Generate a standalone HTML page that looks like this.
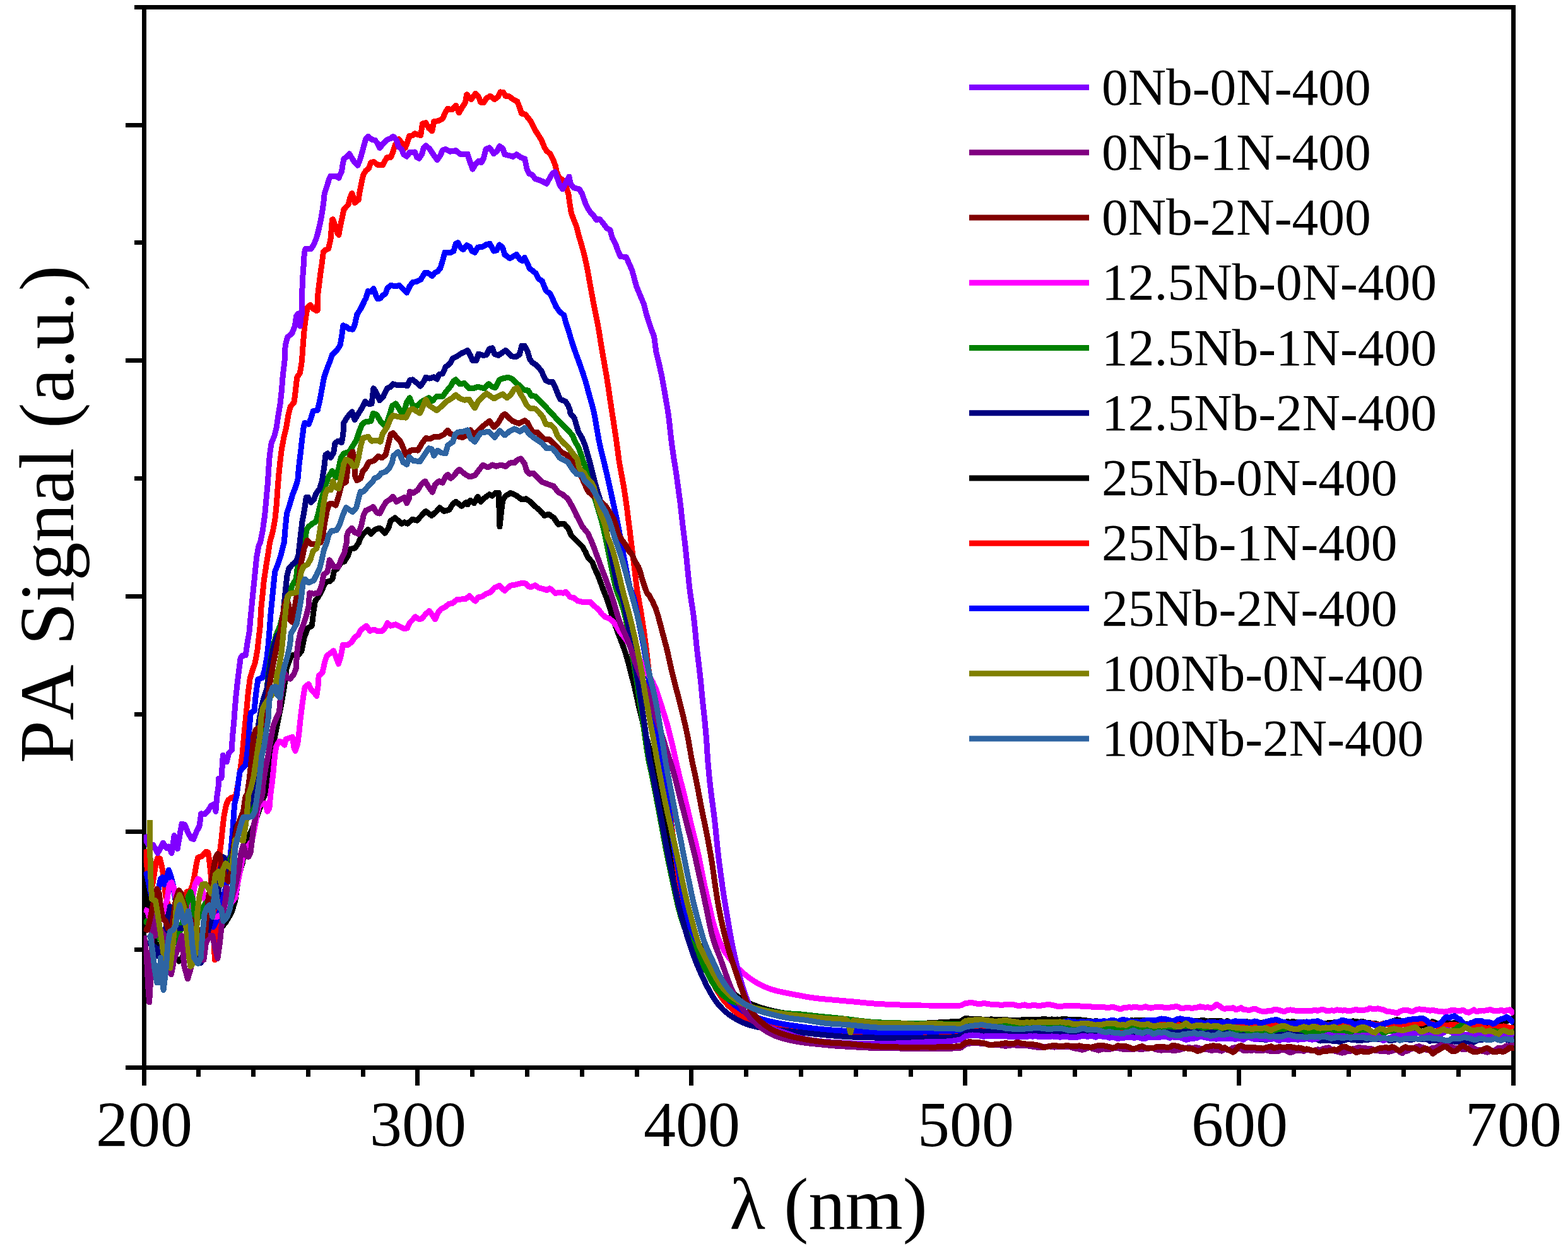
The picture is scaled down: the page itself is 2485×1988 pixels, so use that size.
<!DOCTYPE html>
<html lang="en"><head><meta charset="utf-8"><title>PA Signal vs wavelength</title>
<style>
html,body{margin:0;padding:0;background:#fff;}
body{width:2485px;height:1988px;overflow:hidden;}
svg{display:block;}
text{font-family:"Liberation Serif",serif;fill:#000;font-kerning:none;}
.tick{font-size:102px;text-anchor:middle;}
.leg{font-size:83.5px;}
.ttl{text-anchor:middle;}
.ax{stroke:#000;stroke-width:7;fill:none;stroke-linecap:butt;shape-rendering:crispEdges;}
.c{fill:none;stroke-width:9;stroke-linejoin:round;stroke-linecap:butt;shape-rendering:crispEdges;}
</style></head><body>
<svg width="2485" height="1988" viewBox="0 0 2485 1988">
<rect x="0" y="0" width="2485" height="1988" fill="#fff"/>
<path class="ax" d="M228.4,7.9 V1695.9 M224.9,1692.4 H2401.9 M224.9,11.4 H2401.9 M2398.4,7.9 V1695.9 M212.9,11.40 H228.4 M198.9,198.18 H228.4 M212.9,384.96 H228.4 M198.9,571.73 H228.4 M212.9,758.51 H228.4 M198.9,945.29 H228.4 M212.9,1132.07 H228.4 M198.9,1318.84 H228.4 M212.9,1505.62 H228.4 M198.9,1692.40 H228.4 M228.40,1692.4 V1720.9 M314.60,1692.4 V1706.9 M401.40,1692.4 V1706.9 M488.20,1692.4 V1706.9 M575.00,1692.4 V1706.9 M661.80,1692.4 V1720.9 M748.60,1692.4 V1706.9 M835.40,1692.4 V1706.9 M922.20,1692.4 V1706.9 M1009.00,1692.4 V1706.9 M1095.80,1692.4 V1720.9 M1182.60,1692.4 V1706.9 M1269.40,1692.4 V1706.9 M1356.20,1692.4 V1706.9 M1443.00,1692.4 V1706.9 M1529.80,1692.4 V1720.9 M1616.60,1692.4 V1706.9 M1703.40,1692.4 V1706.9 M1790.20,1692.4 V1706.9 M1877.00,1692.4 V1706.9 M1963.80,1692.4 V1720.9 M2050.60,1692.4 V1706.9 M2137.40,1692.4 V1706.9 M2224.20,1692.4 V1706.9 M2311.00,1692.4 V1706.9 M2398.40,1692.4 V1720.9"/>
<defs><clipPath id="pc"><rect x="227.70000000000002" y="11.4" width="2172.2" height="1681.0"/></clipPath></defs>
<g clip-path="url(#pc)">
<polyline class="c" stroke="#000000" points="228.3,1381.5 230.1,1402.3 237.1,1448.7 246.4,1495.1 258.0,1506.7 269.6,1506.7 283.5,1524.1 297.4,1506.7 316.0,1495.1 339.1,1483.5 357.7,1462.6 367.0,1446.4 372.8,1427.8 376.3,1402.3 379.7,1383.8 384.4,1367.6 387.8,1344.4 391.3,1332.8 401.8,1309.6 419.4,1259.9 424.1,1235.7 428.7,1217.1 432.2,1184.7 436.8,1161.5 441.5,1138.3 446.1,1115.1 450.7,1087.3 454.2,1059.4 460.0,1043.2 463.5,1038.6 473.9,1037.4 478.1,1031.6 482.1,1010.7 487.8,995.7 494.3,992.2 496.7,971.3 499.4,952.8 504.1,947.0 509.9,936.5 515.7,922.6 522.6,921.5 526.8,918.0 529.6,905.2 534.2,901.7 540.0,892.5 545.8,890.1 551.6,880.9 555.1,870.4 562.1,869.3 569.0,860.0 569.1,858.0 573.9,848.7 583.2,839.5 587.8,846.4 594.8,839.5 601.8,837.1 609.9,845.3 615.7,837.1 619.2,825.5 626.1,820.9 636.5,830.2 641.2,827.9 645.8,830.2 653.9,823.2 660.9,825.1 669.0,816.3 674.8,810.5 684.1,817.4 691.0,811.6 696.8,804.7 703.8,810.5 711.9,808.2 717.7,798.9 722.4,795.4 731.6,802.4 738.6,796.6 740.9,800.0 745.5,793.1 751.3,797.7 757.1,787.3 761.8,795.4 767.6,789.6 775.7,783.8 780.3,786.1 785.0,781.5 790.3,781.5 791.9,834.8 796.6,793.1 801.2,786.1 809.3,781.5 817.4,785.0 826.7,791.9 833.7,790.8 840.6,795.4 847.6,802.4 855.7,809.3 862.7,817.4 869.6,815.1 877.7,820.9 884.7,831.3 894.0,830.2 900.0,837.1 905.7,849.1 912.2,855.6 916.8,860.3 923.3,866.8 927.9,875.1 931.6,883.5 939.1,891.8 942.8,902.0 947.4,911.3 951.5,922.6 955.7,933.9 960.1,945.2 964.2,956.4 967.8,967.9 971.3,979.5 975.0,991.0 979.0,1002.3 983.4,1013.6 987.7,1024.9 991.6,1036.3 995.0,1047.9 998.0,1059.6 1001.0,1071.2 1004.1,1082.9 1006.9,1094.7 1009.5,1106.5 1012.0,1118.3 1014.8,1130.0 1017.7,1141.7 1020.6,1153.4 1023.5,1165.2 1026.5,1176.9 1029.6,1188.5 1033.2,1199.7 1036.8,1210.9 1039.7,1222.4 1042.0,1234.2 1044.1,1246.1 1046.2,1258.0 1048.3,1269.9 1050.5,1281.8 1052.6,1293.7 1054.7,1305.6 1056.8,1317.5 1059.0,1329.3 1061.1,1341.2 1063.2,1353.1 1065.3,1365.0 1067.5,1376.9 1069.8,1388.7 1072.3,1400.6 1074.8,1412.4 1077.4,1424.2 1080.2,1435.9 1083.3,1447.6 1086.6,1459.2 1090.0,1470.8 1093.5,1482.1 1097.8,1491.4 1104.2,1496.2 1111.0,1500.1 1116.2,1508.1 1120.9,1518.8 1126.0,1529.7 1131.5,1540.4 1137.5,1550.8 1144.7,1560.3 1153.3,1568.4 1163.0,1575.5 1172.8,1582.3 1183.0,1588.4 1194.0,1593.3 1205.3,1597.3 1216.9,1600.7 1228.6,1603.5 1240.5,1605.7 1252.4,1607.5 1264.4,1608.9 1276.4,1610.0 1288.5,1611.1 1300.5,1612.2 1312.5,1613.2 1324.6,1614.3 1336.6,1615.5 1348.5,1616.9 1360.4,1618.6 1372.4,1620.1 1384.4,1621.2 1396.4,1622.0 1408.5,1622.4 1420.6,1622.6 1432.6,1622.8 1444.7,1622.8 1456.8,1622.5 1468.8,1622.0 1480.9,1621.3 1492.9,1620.7 1492.9,1620.7 1522.6,1619.0 1530.1,1614.2 1541.2,1615.8 1545.5,1615.9 1549.9,1615.6 1554.2,1615.9 1558.5,1616.3 1562.9,1616.1 1567.2,1616.1 1571.6,1615.9 1575.9,1616.7 1580.2,1616.9 1584.6,1616.9 1588.9,1616.3 1593.3,1616.5 1597.6,1617.0 1601.9,1617.6 1606.3,1617.4 1610.6,1617.7 1615.0,1617.4 1619.3,1616.9 1623.6,1616.8 1628.0,1616.5 1632.3,1616.6 1636.7,1616.9 1641.0,1616.9 1645.3,1616.8 1649.7,1616.5 1654.0,1615.1 1658.4,1616.0 1662.7,1616.5 1667.0,1615.9 1671.4,1616.7 1675.7,1616.0 1680.1,1616.2 1684.4,1615.7 1688.7,1615.7 1693.1,1616.1 1697.4,1616.2 1701.8,1617.0 1706.1,1616.6 1710.4,1616.3 1714.8,1617.2 1719.1,1617.4 1723.5,1618.1 1727.8,1618.5 1732.1,1619.8 1736.5,1618.3 1740.8,1619.2 1745.2,1620.1 1749.5,1621.3 1753.8,1620.2 1758.2,1620.3 1762.5,1620.8 1766.9,1619.1 1771.2,1619.0 1775.5,1620.0 1779.9,1619.4 1784.2,1617.9 1788.6,1618.8 1792.9,1617.6 1797.2,1618.2 1801.6,1617.2 1805.9,1617.1 1810.3,1617.5 1814.6,1617.9 1818.9,1620.2 1823.3,1619.7 1827.6,1619.1 1832.0,1619.5 1836.3,1619.8 1840.6,1619.9 1845.0,1619.4 1849.3,1619.5 1853.7,1617.7 1858.0,1619.7 1862.3,1619.7 1866.7,1619.2 1871.0,1620.3 1875.4,1620.0 1879.7,1619.9 1884.0,1618.6 1888.4,1619.1 1892.7,1618.7 1897.1,1618.0 1901.4,1618.7 1905.7,1617.0 1910.1,1618.3 1914.4,1619.3 1918.8,1618.1 1923.1,1618.4 1927.4,1618.6 1931.8,1618.8 1936.1,1618.8 1940.5,1621.6 1944.8,1618.6 1949.1,1620.9 1953.5,1620.5 1957.8,1621.3 1962.2,1622.6 1966.5,1622.2 1970.8,1620.6 1975.2,1619.3 1979.5,1620.9 1983.9,1620.7 1988.2,1619.9 1992.5,1620.5 1996.9,1621.4 2001.2,1621.0 2005.6,1620.0 2009.9,1620.7 2014.2,1622.2 2018.6,1622.3 2022.9,1621.6 2027.3,1622.2 2031.6,1620.3 2035.9,1620.5 2040.3,1619.5 2044.6,1620.4 2049.0,1619.5 2053.3,1620.5 2057.6,1621.8 2062.0,1621.1 2066.3,1620.6 2070.7,1621.9 2075.0,1620.9 2079.3,1623.4 2083.7,1622.4 2088.0,1621.0 2092.4,1623.4 2096.7,1622.6 2101.0,1622.7 2105.4,1621.7 2109.7,1621.9 2114.1,1620.8 2118.4,1620.7 2122.7,1622.0 2127.1,1621.6 2131.4,1620.2 2135.8,1621.8 2140.1,1620.6 2144.4,1618.9 2148.8,1619.2 2153.1,1620.3 2157.5,1619.8 2161.8,1620.0 2166.1,1621.5 2170.5,1621.7 2174.8,1622.3 2179.2,1622.5 2183.5,1623.7 2187.8,1624.6 2192.2,1622.8 2196.5,1622.3 2200.9,1622.0 2205.2,1620.3 2209.5,1618.0 2213.9,1616.7 2218.2,1617.5 2222.6,1619.1 2226.9,1619.3 2231.2,1621.4 2235.6,1622.5 2239.9,1623.3 2244.3,1622.4 2248.6,1624.7 2252.9,1626.2 2257.3,1625.5 2261.6,1624.1 2266.0,1622.0 2270.3,1619.5 2274.6,1621.2 2279.0,1623.9 2283.3,1623.6 2287.7,1622.8 2292.0,1621.2 2296.3,1622.8 2300.7,1622.2 2305.0,1621.7 2309.4,1623.1 2313.7,1624.2 2318.0,1624.4 2322.4,1623.1 2326.7,1624.6 2331.1,1625.4 2335.4,1624.9 2339.7,1623.8 2344.1,1622.9 2348.4,1623.0 2352.8,1622.8 2357.1,1622.9 2361.4,1623.5 2365.8,1623.8 2370.1,1624.2 2374.5,1624.4 2378.8,1621.5 2383.1,1621.6 2387.5,1619.3 2391.8,1617.5 2396.2,1616.5 2399.5,1617.5"/>
<polyline class="c" stroke="#ff0000" points="228.3,1346.7 231.3,1363.4 234.1,1381.9 237.8,1400.5 241.5,1403.3 244.3,1386.6 247.1,1368.0 249.9,1359.7 253.6,1361.5 256.4,1372.7 259.1,1389.4 261.0,1405.1 262.6,1420.9 267.3,1437.1 274.2,1448.7 283.5,1444.1 292.8,1425.5 296.2,1413.9 302.0,1411.6 305.5,1402.3 309.0,1383.8 311.3,1369.9 313.6,1359.4 320.6,1357.1 326.4,1350.2 329.9,1351.3 332.2,1367.6 334.5,1390.7 336.8,1425.5 338.7,1471.9 340.3,1521.8 343.8,1471.9 346.1,1402.3 348.4,1351.3 350.7,1332.8 353.1,1309.6 355.4,1291.0 358.9,1274.8 362.3,1267.8 367.0,1264.4 371.6,1263.2 374.2,1259.9 377.7,1240.3 381.2,1217.1 384.0,1196.3 386.3,1170.8 388.6,1147.6 390.9,1124.4 393.2,1098.9 396.2,1075.7 399.7,1064.1 404.4,1050.2 407.8,1031.6 410.2,1010.7 412.5,989.9 413.6,966.7 416.0,943.5 418.3,920.3 421.8,897.1 425.2,876.2 427.6,860.0 432.5,841.8 435.9,823.2 438.3,800.0 439.9,776.8 441.7,753.7 444.1,730.5 446.4,711.9 449.9,693.4 453.3,679.4 456.8,658.6 460.3,644.7 466.1,637.7 468.4,619.1 470.7,598.3 475.4,591.3 478.4,572.8 480.0,549.6 482.3,521.7 484.6,503.2 487.0,488.1 491.6,483.5 496.2,489.3 502.0,492.8 503.2,480.0 503.3,491.9 503.3,471.1 505.5,452.5 507.8,434.0 510.2,417.7 512.5,399.2 514.8,396.8 520.6,394.5 524.1,378.3 526.4,348.1 527.6,347.7 531.0,357.4 534.5,369.0 536.8,372.5 539.1,359.7 542.6,343.5 544.9,331.9 551.9,324.5 554.9,313.4 557.7,306.4 560.5,313.4 562.3,321.5 568.1,316.8 570.5,301.8 572.8,290.2 575.8,277.4 579.7,270.5 584.4,267.0 587.8,257.7 592.5,256.5 598.3,261.2 606.4,261.9 609.9,255.4 613.4,249.6 619.2,249.6 622.6,241.5 626.1,229.9 631.9,220.6 636.5,226.4 642.3,234.5 645.8,225.2 648.6,215.5 653.9,214.8 657.4,211.8 666.7,214.8 669.5,196.2 674.8,194.6 679.5,203.2 684.8,207.8 687.6,192.8 694.5,191.6 701.5,188.1 706.1,177.7 709.6,172.4 716.6,173.7 722.4,167.3 727.5,178.8 732.8,169.6 737.4,162.6 739.7,149.9 746.7,157.5 753.7,148.2 758.3,153.3 761.8,162.2 766.4,162.6 771.1,155.7 776.9,152.2 783.8,157.5 789.6,153.3 793.1,145.9 797.7,146.4 801.2,152.2 807.0,152.9 814.0,158.0 819.8,160.8 823.2,169.6 826.7,180.0 832.5,181.2 840.6,191.6 847.6,205.5 852.2,212.5 858.0,221.8 862.7,233.3 866.1,239.1 871.9,243.8 876.6,253.1 880.1,262.3 882.4,272.8 885.9,280.9 891.7,285.5 897.4,296.4 900.9,308.0 903.2,324.2 905.5,338.1 909.0,347.4 913.6,359.0 917.1,372.9 920.6,384.5 923.8,396.1 926.8,407.8 929.5,419.5 931.7,431.3 933.8,443.1 935.9,455.0 938.1,466.8 940.3,478.7 942.6,490.5 945.0,502.3 947.3,514.1 949.4,525.9 951.3,537.8 953.2,549.7 955.2,561.6 957.3,573.4 959.4,585.3 961.4,597.1 963.3,609.0 965.1,620.9 966.8,632.8 968.6,644.7 970.4,656.6 972.3,668.5 974.1,680.4 975.9,692.3 977.6,704.2 979.2,716.2 980.7,728.1 982.7,740.0 984.9,751.8 987.1,763.6 989.2,775.5 991.0,787.3 992.7,799.3 994.3,811.2 995.7,823.1 997.3,835.1 998.8,847.0 1000.2,858.9 1001.7,870.9 1003.2,882.8 1004.7,894.8 1006.2,906.7 1007.6,918.6 1009.0,930.6 1010.8,942.4 1013.0,954.2 1015.1,966.1 1017.0,977.9 1018.8,989.8 1020.6,1001.7 1022.2,1013.7 1023.8,1025.6 1025.3,1037.5 1026.6,1049.5 1028.0,1061.5 1029.5,1073.4 1031.3,1085.3 1033.0,1097.2 1034.8,1109.1 1036.6,1121.0 1038.4,1132.9 1040.2,1144.8 1042.0,1156.7 1043.7,1168.6 1045.4,1180.5 1046.9,1192.5 1048.6,1204.4 1050.6,1216.3 1052.6,1228.1 1054.5,1240.0 1056.3,1251.9 1058.1,1263.8 1059.8,1275.7 1061.4,1287.6 1063.0,1299.6 1064.6,1311.5 1066.2,1323.4 1067.8,1335.4 1069.4,1347.3 1071.0,1359.2 1072.6,1371.2 1074.3,1383.1 1076.1,1395.0 1078.1,1406.8 1080.1,1418.7 1082.2,1430.5 1084.8,1442.3 1087.9,1453.9 1091.2,1465.4 1094.6,1477.0 1098.0,1488.5 1101.7,1499.7 1106.5,1510.4 1111.9,1520.9 1117.1,1531.7 1122.3,1542.5 1127.5,1553.4 1133.0,1564.1 1139.0,1574.5 1145.8,1584.3 1153.6,1593.4 1162.3,1601.6 1171.8,1608.8 1182.1,1614.8 1193.2,1619.3 1204.7,1622.6 1216.5,1624.9 1228.4,1626.6 1240.3,1628.1 1252.1,1630.0 1263.9,1631.9 1275.8,1633.5 1287.8,1634.7 1299.7,1635.9 1311.7,1637.0 1323.7,1637.9 1335.7,1638.6 1347.7,1639.1 1359.8,1639.4 1371.8,1639.5 1383.8,1639.6 1395.9,1639.8 1407.9,1639.9 1419.9,1639.8 1432.0,1639.5 1444.0,1639.3 1456.0,1638.9 1468.0,1638.4 1480.1,1637.9 1492.1,1637.3 1504.1,1636.4 1504.1,1636.4 1522.6,1636.4 1531.9,1631.4 1541.2,1629.6 1545.5,1629.8 1549.9,1629.9 1554.2,1629.2 1558.5,1629.1 1562.9,1629.3 1567.2,1628.6 1571.6,1629.6 1575.9,1628.8 1580.2,1628.8 1584.6,1628.6 1588.9,1629.2 1593.3,1629.3 1597.6,1629.5 1601.9,1629.7 1606.3,1629.6 1610.6,1630.2 1615.0,1630.7 1619.3,1630.4 1623.6,1629.5 1628.0,1628.7 1632.3,1628.7 1636.7,1628.5 1641.0,1628.1 1645.3,1628.6 1649.7,1628.2 1654.0,1627.5 1658.4,1628.0 1662.7,1628.1 1667.0,1627.6 1671.4,1628.5 1675.7,1628.5 1680.1,1628.1 1684.4,1628.2 1688.7,1628.2 1693.1,1629.2 1697.4,1629.7 1701.8,1629.6 1706.1,1629.1 1710.4,1628.9 1714.8,1628.9 1719.1,1628.8 1723.5,1629.8 1727.8,1630.3 1732.1,1630.6 1736.5,1630.3 1740.8,1630.6 1745.2,1630.7 1749.5,1630.7 1753.8,1630.5 1758.2,1631.4 1762.5,1630.7 1766.9,1630.5 1771.2,1630.6 1775.5,1631.0 1779.9,1630.5 1784.2,1628.4 1788.6,1629.0 1792.9,1626.7 1797.2,1626.6 1801.6,1625.9 1805.9,1624.5 1810.3,1624.3 1814.6,1623.2 1818.9,1626.4 1823.3,1626.1 1827.6,1623.6 1832.0,1623.0 1836.3,1623.3 1840.6,1623.2 1845.0,1622.2 1849.3,1621.0 1853.7,1623.1 1858.0,1622.4 1862.3,1624.9 1866.7,1624.1 1871.0,1625.8 1875.4,1626.9 1879.7,1624.3 1884.0,1624.6 1888.4,1625.5 1892.7,1624.5 1897.1,1626.2 1901.4,1625.4 1905.7,1626.5 1910.1,1626.8 1914.4,1627.4 1918.8,1626.3 1923.1,1625.5 1927.4,1626.0 1931.8,1627.5 1936.1,1626.5 1940.5,1626.4 1944.8,1625.9 1949.1,1628.1 1953.5,1629.3 1957.8,1626.7 1962.2,1627.6 1966.5,1627.4 1970.8,1625.3 1975.2,1627.8 1979.5,1627.3 1983.9,1627.5 1988.2,1628.5 1992.5,1627.0 1996.9,1626.0 2001.2,1627.0 2005.6,1627.1 2009.9,1624.7 2014.2,1624.6 2018.6,1624.8 2022.9,1626.3 2027.3,1626.0 2031.6,1624.1 2035.9,1623.8 2040.3,1624.6 2044.6,1623.7 2049.0,1625.0 2053.3,1625.9 2057.6,1625.5 2062.0,1625.8 2066.3,1627.1 2070.7,1627.5 2075.0,1629.0 2079.3,1632.0 2083.7,1629.3 2088.0,1626.3 2092.4,1625.5 2096.7,1626.4 2101.0,1626.2 2105.4,1624.3 2109.7,1624.1 2114.1,1623.7 2118.4,1624.4 2122.7,1625.3 2127.1,1624.5 2131.4,1625.9 2135.8,1626.2 2140.1,1628.3 2144.4,1627.4 2148.8,1628.0 2153.1,1628.8 2157.5,1628.2 2161.8,1627.6 2166.1,1627.1 2170.5,1625.0 2174.8,1622.3 2179.2,1624.5 2183.5,1624.4 2187.8,1624.2 2192.2,1623.6 2196.5,1622.8 2200.9,1624.4 2205.2,1625.3 2209.5,1626.1 2213.9,1626.8 2218.2,1626.0 2222.6,1623.8 2226.9,1623.4 2231.2,1623.7 2235.6,1622.7 2239.9,1621.0 2244.3,1621.3 2248.6,1622.6 2252.9,1622.9 2257.3,1620.7 2261.6,1619.8 2266.0,1621.9 2270.3,1622.5 2274.6,1625.5 2279.0,1627.2 2283.3,1628.4 2287.7,1627.0 2292.0,1625.2 2296.3,1625.0 2300.7,1624.1 2305.0,1624.5 2309.4,1625.2 2313.7,1626.4 2318.0,1627.9 2322.4,1627.3 2326.7,1626.6 2331.1,1627.9 2335.4,1627.7 2339.7,1627.1 2344.1,1627.6 2348.4,1626.9 2352.8,1628.9 2357.1,1630.9 2361.4,1629.1 2365.8,1628.9 2370.1,1627.3 2374.5,1627.5 2378.8,1627.6 2383.1,1626.8 2387.5,1628.2 2391.8,1629.0 2396.2,1629.6 2399.5,1630.1"/>
<polyline class="c" stroke="#0000ff" points="228.3,1388.4 232.5,1384.9 235.9,1402.3 239.4,1418.6 244.1,1425.5 249.9,1416.3 254.5,1393.1 258.0,1390.7 260.8,1402.3 263.8,1393.1 267.3,1379.1 270.7,1388.4 274.2,1402.3 277.0,1420.9 280.0,1437.1 285.8,1448.7 292.8,1448.7 304.4,1453.4 313.6,1448.7 320.6,1441.8 325.2,1448.7 332.2,1462.6 338.0,1469.6 343.8,1458.0 350.7,1437.1 357.7,1407.0 362.3,1379.1 365.1,1356.0 367.4,1332.8 369.3,1309.6 371.6,1274.8 375.3,1259.9 377.7,1240.3 380.0,1224.1 384.6,1217.1 389.3,1212.5 391.6,1196.3 393.9,1173.1 395.5,1149.9 397.4,1130.2 403.2,1126.7 404.4,1110.5 406.7,1091.9 409.0,1076.8 416.0,1074.5 419.4,1061.8 422.9,1043.2 425.2,1022.3 427.1,999.1 428.7,976.0 431.0,952.8 433.3,929.6 435.7,906.4 440.3,894.8 444.9,880.9 448.4,867.0 450.3,860.0 452.2,837.1 454.5,814.0 459.1,800.0 463.8,783.8 468.4,772.2 471.9,760.6 473.7,739.7 476.5,716.5 478.8,695.7 481.2,677.1 483.0,670.2 489.3,672.5 492.8,663.2 496.2,651.6 503.2,650.5 506.7,635.4 510.2,616.8 513.6,598.3 518.3,584.4 522.9,572.8 526.4,562.3 534.5,554.2 539.1,547.3 541.9,531.0 543.8,515.9 549.6,518.3 553.1,521.7 558.9,522.2 562.3,514.8 565.8,498.6 571.6,489.3 576.3,480.0 576.3,479.2 579.7,473.4 583.2,461.8 587.8,462.9 592.0,457.6 596.0,468.7 598.3,473.8 602.9,472.9 606.4,468.7 611.0,465.3 613.8,457.1 619.2,452.5 627.3,453.7 633.1,452.5 638.9,458.3 644.7,464.1 649.3,453.7 653.9,447.4 659.7,446.7 666.7,443.2 673.7,432.1 678.3,432.8 684.8,437.4 688.7,432.8 693.4,430.5 698.0,424.7 701.5,413.1 705.0,400.3 713.1,401.0 718.9,398.0 722.4,386.4 725.8,384.8 729.3,391.0 734.0,395.7 739.7,388.7 744.4,391.0 747.9,398.0 752.5,400.3 757.1,392.2 765.3,391.0 771.1,387.6 776.2,386.4 782.7,398.0 787.3,396.8 791.5,388.0 796.6,392.7 800.0,403.8 808.2,409.6 814.0,406.1 818.6,403.3 824.4,411.9 827.9,413.5 831.4,408.4 834.8,415.4 839.5,425.8 848.7,432.8 853.4,442.1 859.2,445.5 862.7,454.8 866.1,461.8 871.9,465.3 876.6,475.7 881.2,486.1 887.0,494.2 894.0,500.0 896.2,509.7 900.9,523.7 904.3,535.2 907.9,546.7 911.8,558.1 916.0,569.4 920.1,580.7 924.0,592.1 927.7,603.6 931.0,615.1 934.0,626.8 937.3,638.3 940.5,649.9 942.9,661.6 944.9,673.5 946.9,685.4 949.0,697.2 951.5,709.0 954.3,720.7 957.2,732.4 960.0,744.1 962.7,755.9 965.3,767.7 967.9,779.4 970.5,791.2 973.1,802.9 975.7,814.7 978.2,826.5 980.6,838.3 982.7,850.2 984.8,862.0 987.0,873.9 989.3,885.7 991.5,897.5 993.7,909.4 995.9,921.0 998.2,931.2 1001.2,939.1 1004.3,947.7 1006.9,958.6 1009.3,970.3 1011.6,982.2 1014.0,994.0 1016.3,1005.8 1018.7,1017.6 1020.8,1029.5 1022.8,1041.3 1024.6,1053.3 1026.4,1065.2 1028.2,1077.1 1030.0,1089.0 1031.7,1100.9 1033.5,1112.8 1035.3,1124.7 1037.1,1136.7 1038.9,1148.6 1040.7,1160.5 1042.4,1172.4 1044.0,1184.4 1045.6,1196.3 1047.4,1208.2 1049.4,1220.1 1051.4,1232.0 1053.4,1243.8 1055.4,1255.7 1057.4,1267.6 1059.3,1279.5 1061.2,1291.4 1062.8,1303.3 1064.3,1315.3 1066.0,1327.2 1067.8,1339.1 1069.8,1351.0 1072.0,1362.9 1074.2,1374.7 1076.5,1386.5 1078.5,1398.4 1080.5,1410.3 1082.5,1422.2 1084.7,1434.0 1087.5,1445.7 1090.6,1457.3 1093.7,1469.0 1096.7,1480.6 1100.1,1492.2 1103.8,1503.2 1107.5,1511.8 1110.6,1515.6 1113.7,1519.2 1117.7,1527.5 1122.8,1537.9 1128.4,1548.6 1134.4,1559.0 1141.0,1569.0 1148.5,1578.4 1156.9,1586.9 1166.1,1594.7 1175.9,1601.6 1186.3,1607.5 1197.3,1612.2 1208.7,1616.1 1220.3,1619.2 1232.0,1621.7 1243.9,1623.9 1255.8,1625.8 1267.7,1627.5 1279.7,1629.1 1291.6,1630.6 1303.6,1631.8 1315.6,1632.8 1327.6,1633.7 1339.6,1634.2 1351.7,1634.4 1363.7,1634.8 1375.7,1635.5 1387.7,1636.3 1399.7,1636.8 1411.8,1636.8 1423.8,1636.5 1435.9,1636.3 1447.9,1636.3 1460.0,1636.1 1472.0,1635.7 1484.0,1635.2 1496.1,1634.6 1504.1,1634.2 1522.6,1633.8 1531.9,1627.7 1541.2,1623.3 1545.5,1623.9 1549.9,1623.8 1554.2,1623.6 1558.5,1623.7 1562.9,1623.6 1567.2,1623.8 1571.6,1623.9 1575.9,1623.8 1580.2,1624.1 1584.6,1624.2 1588.9,1624.4 1593.3,1624.5 1597.6,1624.4 1601.9,1624.6 1606.3,1624.2 1610.6,1624.8 1615.0,1624.3 1619.3,1624.2 1623.6,1624.1 1628.0,1623.8 1632.3,1623.7 1636.7,1623.7 1641.0,1623.2 1645.3,1623.4 1649.7,1622.3 1654.0,1621.9 1658.4,1621.7 1662.7,1621.7 1667.0,1621.6 1671.4,1621.2 1675.7,1621.4 1680.1,1620.9 1684.4,1620.2 1688.7,1619.6 1693.1,1618.7 1697.4,1619.1 1701.8,1619.6 1706.1,1620.2 1710.4,1620.1 1714.8,1619.3 1719.1,1620.2 1723.5,1619.8 1727.8,1619.6 1732.1,1620.2 1736.5,1619.1 1740.8,1619.3 1745.2,1619.8 1749.5,1618.5 1753.8,1620.2 1758.2,1618.3 1762.5,1617.3 1766.9,1618.1 1771.2,1619.8 1775.5,1617.6 1779.9,1616.4 1784.2,1617.3 1788.6,1618.1 1792.9,1619.4 1797.2,1619.2 1801.6,1619.3 1805.9,1620.9 1810.3,1619.0 1814.6,1618.2 1818.9,1617.5 1823.3,1618.1 1827.6,1617.1 1832.0,1618.1 1836.3,1616.0 1840.6,1615.0 1845.0,1615.3 1849.3,1616.2 1853.7,1617.5 1858.0,1618.5 1862.3,1617.7 1866.7,1615.2 1871.0,1614.8 1875.4,1616.0 1879.7,1616.1 1884.0,1616.6 1888.4,1617.5 1892.7,1619.6 1897.1,1619.7 1901.4,1620.4 1905.7,1621.1 1910.1,1622.5 1914.4,1620.9 1918.8,1620.4 1923.1,1620.2 1927.4,1621.4 1931.8,1621.3 1936.1,1620.2 1940.5,1620.5 1944.8,1620.6 1949.1,1620.4 1953.5,1620.2 1957.8,1618.7 1962.2,1619.8 1966.5,1619.5 1970.8,1619.1 1975.2,1620.3 1979.5,1621.2 1983.9,1620.7 1988.2,1619.0 1992.5,1619.7 1996.9,1622.6 2001.2,1621.8 2005.6,1619.9 2009.9,1619.0 2014.2,1617.8 2018.6,1617.2 2022.9,1616.4 2027.3,1618.1 2031.6,1620.0 2035.9,1620.7 2040.3,1622.8 2044.6,1622.9 2049.0,1622.3 2053.3,1623.2 2057.6,1620.8 2062.0,1620.4 2066.3,1621.8 2070.7,1619.9 2075.0,1620.8 2079.3,1619.7 2083.7,1619.7 2088.0,1618.6 2092.4,1620.5 2096.7,1622.2 2101.0,1624.5 2105.4,1625.4 2109.7,1624.1 2114.1,1622.1 2118.4,1620.4 2122.7,1619.6 2127.1,1617.1 2131.4,1618.2 2135.8,1619.3 2140.1,1619.9 2144.4,1622.6 2148.8,1624.5 2153.1,1622.3 2157.5,1620.8 2161.8,1621.6 2166.1,1621.7 2170.5,1622.4 2174.8,1623.8 2179.2,1625.5 2183.5,1625.6 2187.8,1625.2 2192.2,1624.3 2196.5,1621.7 2200.9,1621.0 2205.2,1619.2 2209.5,1618.9 2213.9,1619.5 2218.2,1619.9 2222.6,1618.7 2226.9,1618.4 2231.2,1616.8 2235.6,1616.5 2239.9,1615.2 2244.3,1615.6 2248.6,1615.0 2252.9,1614.0 2257.3,1615.5 2261.6,1618.6 2266.0,1623.8 2270.3,1624.0 2274.6,1625.7 2279.0,1624.1 2283.3,1621.3 2287.7,1616.7 2292.0,1611.6 2296.3,1613.7 2300.7,1611.7 2305.0,1610.5 2309.4,1614.3 2313.7,1615.9 2318.0,1620.9 2322.4,1625.0 2326.7,1624.2 2331.1,1621.7 2335.4,1620.6 2339.7,1618.0 2344.1,1619.0 2348.4,1618.7 2352.8,1620.7 2357.1,1620.6 2361.4,1620.9 2365.8,1623.1 2370.1,1621.5 2374.5,1617.5 2378.8,1615.7 2383.1,1614.7 2387.5,1612.0 2391.8,1614.5 2396.2,1619.2 2399.5,1621.2"/>
<polyline class="c" stroke="#ff00ff" points="228.3,1441.8 233.6,1444.1 237.1,1458.0 246.4,1471.9 258.0,1448.7 264.9,1425.5 268.4,1402.3 271.9,1398.9 275.4,1407.0 278.4,1423.2 283.5,1448.7 292.8,1460.3 302.0,1437.1 309.0,1402.3 313.6,1393.1 317.1,1395.4 320.1,1409.3 324.1,1423.2 329.9,1439.4 336.8,1453.4 343.8,1453.4 353.1,1448.7 362.3,1437.1 372.8,1423.2 376.3,1402.3 380.9,1379.1 385.5,1356.0 392.5,1342.0 399.4,1332.8 404.1,1309.6 407.6,1288.7 411.0,1277.1 415.7,1274.8 420.3,1273.6 423.8,1286.4 426.8,1281.7 428.7,1259.9 431.0,1242.7 433.3,1221.8 435.7,1196.3 438.0,1182.4 442.6,1175.4 447.3,1176.6 450.7,1181.2 453.1,1171.9 460.0,1169.6 463.5,1168.4 465.8,1184.7 468.1,1190.5 471.6,1180.0 473.9,1161.5 476.3,1138.3 478.6,1119.7 480.9,1103.5 483.2,1089.6 489.0,1084.5 493.6,1094.2 497.1,1096.5 501.8,1103.5 504.1,1087.3 505.2,1071.0 511.0,1066.4 514.5,1050.2 518.0,1039.7 522.6,1036.3 528.4,1031.6 533.1,1043.2 536.5,1052.5 540.0,1040.9 543.5,1022.3 551.6,1022.3 557.4,1017.7 562.1,1010.7 567.9,1006.1 571.3,999.1 576.0,995.7 580.6,992.2 586.4,1000.3 592.2,998.0 598.0,1000.3 606.1,1000.3 610.8,994.5 614.2,987.6 618.9,992.2 627.0,989.9 634.0,993.3 640.9,996.8 645.5,995.7 649.0,987.6 653.7,982.9 658.3,977.8 664.1,981.8 668.7,980.6 674.5,973.6 680.3,968.5 685.0,974.8 689.6,981.8 694.2,971.3 698.9,965.5 705.8,962.0 711.6,957.4 717.4,956.2 724.4,950.4 731.4,950.0 738.3,949.3 744.1,944.6 748.7,949.3 753.4,952.8 758.0,947.0 763.8,945.8 770.8,941.2 777.7,938.8 783.5,931.9 791.7,928.4 797.4,934.2 800.0,936.5 805.7,931.0 809.4,928.2 814.9,927.3 822.4,925.5 827.9,924.2 832.6,924.9 838.1,930.1 842.8,930.1 848.3,927.9 853.9,931.9 861.3,933.8 866.9,935.7 870.6,932.9 874.3,934.7 879.9,940.3 887.3,939.4 892.9,940.3 896.6,938.4 904.0,946.8 909.6,947.7 915.1,952.4 922.5,954.2 930.0,954.6 935.5,954.2 942.9,961.6 948.5,966.3 954.1,973.7 959.6,978.3 965.2,980.2 970.8,984.8 976.3,991.3 981.9,1000.6 989.2,1010.2 996.4,1019.9 1003.5,1029.6 1010.3,1039.5 1016.4,1049.8 1022.2,1060.4 1028.2,1070.8 1034.3,1081.1 1039.4,1091.8 1043.3,1103.1 1046.9,1114.6 1050.6,1126.1 1054.2,1137.5 1057.6,1149.1 1060.7,1160.8 1063.6,1172.5 1066.3,1184.2 1069.0,1196.0 1071.6,1207.7 1074.2,1219.5 1077.0,1231.2 1080.0,1242.9 1083.0,1254.6 1085.8,1266.3 1088.6,1278.0 1091.4,1289.8 1094.1,1301.5 1096.9,1313.2 1099.8,1324.9 1102.7,1336.6 1105.4,1348.4 1108.0,1360.1 1110.3,1372.0 1112.6,1383.8 1115.0,1395.6 1117.5,1407.4 1120.2,1419.1 1122.9,1430.9 1125.6,1442.6 1128.3,1454.4 1131.3,1466.1 1134.8,1477.6 1138.8,1488.9 1143.5,1499.7 1149.0,1509.4 1155.4,1518.4 1162.7,1527.5 1170.8,1536.2 1179.7,1544.2 1189.3,1551.6 1199.4,1558.1 1210.0,1563.6 1221.1,1568.0 1232.7,1571.3 1244.4,1573.8 1256.2,1576.1 1268.1,1578.4 1279.9,1580.6 1291.8,1582.4 1303.7,1583.7 1315.7,1584.7 1327.7,1585.8 1339.7,1586.9 1351.7,1587.9 1363.7,1589.1 1375.6,1590.3 1387.7,1591.2 1399.7,1591.9 1411.7,1592.4 1423.8,1592.9 1435.8,1593.5 1447.8,1593.9 1459.9,1594.0 1471.9,1594.0 1484.0,1594.2 1496.0,1594.3 1504.1,1594.3 1522.6,1594.0 1530.1,1590.6 1539.3,1589.3 1550.5,1591.7 1554.8,1591.3 1559.1,1590.5 1563.5,1591.2 1567.8,1591.8 1572.2,1592.5 1576.5,1592.1 1580.8,1592.6 1585.2,1593.3 1589.5,1593.2 1593.9,1592.4 1598.2,1592.7 1602.5,1593.0 1606.9,1592.8 1611.2,1594.0 1615.6,1594.9 1619.9,1593.5 1624.2,1592.9 1628.6,1594.9 1632.9,1594.5 1637.3,1593.1 1641.6,1593.9 1645.9,1594.9 1650.3,1594.0 1654.6,1593.3 1659.0,1592.8 1663.3,1592.6 1667.6,1593.3 1672.0,1594.4 1676.3,1595.3 1680.7,1595.9 1685.0,1595.0 1689.3,1594.7 1693.7,1594.5 1698.0,1594.8 1702.4,1594.5 1706.7,1594.6 1711.0,1594.9 1715.4,1595.3 1719.7,1595.8 1724.1,1595.7 1728.4,1595.8 1732.7,1597.0 1737.1,1596.1 1741.4,1596.6 1745.8,1596.4 1750.1,1596.7 1754.4,1597.5 1758.8,1597.3 1763.1,1596.0 1767.5,1597.5 1771.8,1598.7 1776.1,1599.8 1780.5,1597.8 1784.8,1597.4 1789.2,1596.7 1793.5,1597.3 1797.8,1596.4 1802.2,1596.6 1806.5,1597.7 1810.9,1597.1 1815.2,1595.8 1819.5,1597.2 1823.9,1598.2 1828.2,1597.1 1832.6,1596.6 1836.9,1596.9 1841.2,1596.6 1845.6,1597.4 1849.9,1597.5 1854.3,1597.0 1858.6,1596.9 1862.9,1595.5 1867.3,1596.1 1871.6,1598.6 1876.0,1598.5 1880.3,1597.1 1884.6,1597.6 1889.0,1598.4 1893.3,1597.8 1897.7,1596.9 1902.0,1595.7 1906.3,1596.9 1910.7,1597.1 1915.0,1596.8 1919.4,1598.2 1923.7,1596.3 1928.0,1592.2 1932.4,1594.6 1936.7,1598.1 1941.1,1599.5 1945.4,1598.1 1949.7,1598.9 1954.1,1597.5 1958.4,1600.8 1962.8,1599.4 1967.1,1597.6 1971.4,1600.8 1975.8,1601.0 1980.1,1601.5 1984.5,1600.0 1988.8,1599.2 1993.1,1601.0 1997.5,1602.8 2001.8,1603.3 2006.2,1603.8 2010.5,1602.1 2014.8,1603.0 2019.2,1600.4 2023.5,1600.5 2027.9,1601.6 2032.2,1603.0 2036.5,1603.4 2040.9,1601.2 2045.2,1600.9 2049.6,1601.5 2053.9,1602.4 2058.2,1602.6 2062.6,1602.2 2066.9,1603.0 2071.3,1602.0 2075.6,1602.1 2079.9,1602.1 2084.3,1601.3 2088.6,1602.4 2093.0,1600.9 2097.3,1600.5 2101.6,1602.2 2106.0,1602.5 2110.3,1601.8 2114.7,1602.3 2119.0,1600.8 2123.3,1601.6 2127.7,1602.1 2132.0,1601.4 2136.4,1602.9 2140.7,1602.4 2145.0,1601.5 2149.4,1600.3 2153.7,1601.9 2158.1,1601.5 2162.4,1601.2 2166.7,1600.6 2171.1,1598.1 2175.4,1599.7 2179.8,1599.4 2184.1,1598.8 2188.4,1600.1 2192.8,1600.7 2197.1,1603.2 2201.5,1603.9 2205.8,1604.1 2210.1,1605.1 2214.5,1606.3 2218.8,1603.2 2223.2,1601.8 2227.5,1601.6 2231.8,1601.9 2236.2,1603.6 2240.5,1603.0 2244.9,1600.5 2249.2,1599.8 2253.5,1600.5 2257.9,1600.6 2262.2,1601.4 2266.6,1602.2 2270.9,1601.5 2275.2,1602.3 2279.6,1603.2 2283.9,1603.2 2288.3,1604.2 2292.6,1603.4 2296.9,1602.7 2301.3,1601.3 2305.6,1601.5 2310.0,1602.8 2314.3,1602.6 2318.6,1601.1 2323.0,1604.0 2327.3,1605.2 2331.7,1603.0 2336.0,1600.8 2340.3,1603.9 2344.7,1602.4 2349.0,1602.0 2353.4,1602.1 2357.7,1601.4 2362.0,1600.3 2366.4,1602.4 2370.7,1602.7 2375.1,1602.7 2379.4,1601.1 2383.7,1603.5 2388.1,1601.7 2392.4,1600.7 2396.8,1604.6 2399.5,1608.2"/>
<polyline class="c" stroke="#008000" points="228.3,1458.0 232.5,1462.6 241.7,1471.9 258.0,1495.1 269.6,1483.5 280.0,1495.1 285.8,1474.2 292.8,1448.7 298.6,1420.9 302.0,1413.9 305.5,1425.5 307.8,1448.7 311.3,1460.3 318.3,1448.7 325.2,1432.5 332.2,1425.5 343.8,1413.9 357.7,1379.1 367.0,1356.0 371.6,1332.8 380.9,1309.6 397.1,1286.4 409.0,1259.9 413.6,1189.3 416.0,1159.2 422.9,1091.9 426.4,1061.8 432.2,1027.0 438.0,1006.1 443.8,992.2 450.7,964.4 460.0,936.5 463.5,927.3 469.3,918.0 471.6,897.1 476.3,883.2 483.2,860.0 485.8,839.5 489.3,834.8 495.1,830.2 500.9,826.7 504.4,814.0 509.0,793.1 514.8,772.2 520.6,756.0 526.4,746.7 532.2,757.1 536.8,742.1 540.3,725.8 544.9,718.9 553.1,716.5 558.9,707.3 564.7,698.0 569.3,684.1 573.9,672.5 578.6,669.0 587.8,667.8 591.3,655.1 597.1,657.4 602.9,667.8 611.0,676.0 618.0,656.3 621.5,643.5 627.3,640.0 631.9,647.0 636.5,655.1 641.2,649.3 644.7,637.7 649.3,630.7 653.9,642.3 659.7,644.7 666.7,637.7 672.5,634.2 679.5,630.7 685.3,635.4 692.2,628.4 701.5,628.4 708.4,619.1 714.2,612.2 718.9,604.1 722.4,601.8 728.2,608.7 736.3,607.6 743.2,615.7 750.2,615.7 757.1,613.3 767.6,615.7 774.5,608.7 780.3,613.3 785.0,614.5 791.9,601.8 798.9,599.4 805.8,598.3 811.6,600.6 817.4,606.4 824.4,612.2 830.2,618.0 837.2,619.1 841.8,627.3 848.7,628.4 854.5,634.2 863.8,643.5 869.6,650.5 875.4,656.3 882.4,664.4 889.3,671.3 900.0,681.8 907.5,690.5 911.2,699.8 916.8,709.1 921.4,722.0 924.2,731.3 927.9,740.6 931.6,751.7 935.3,762.9 939.1,777.7 942.5,789.2 946.0,800.8 949.4,812.3 952.8,823.9 955.9,835.6 958.5,847.3 960.9,859.1 963.3,870.9 965.6,882.8 968.0,894.6 970.4,906.4 972.7,918.2 975.4,929.9 979.0,941.3 983.3,952.4 987.3,963.7 990.3,975.3 993.0,987.0 995.4,998.8 997.6,1010.7 999.6,1022.6 1001.4,1034.5 1003.4,1046.4 1005.5,1058.2 1007.5,1070.1 1009.4,1082.0 1011.2,1093.9 1013.0,1105.9 1014.8,1117.8 1016.6,1129.7 1018.4,1141.6 1020.2,1153.6 1021.9,1165.5 1023.6,1177.4 1025.2,1189.3 1027.2,1201.2 1029.6,1213.0 1032.2,1224.8 1034.7,1236.6 1037.0,1248.4 1039.3,1260.2 1041.6,1272.1 1043.8,1283.9 1046.0,1295.8 1048.2,1307.6 1050.4,1319.5 1052.6,1331.3 1054.8,1343.2 1057.1,1355.0 1059.5,1366.8 1062.0,1378.6 1064.5,1390.4 1067.0,1402.2 1069.5,1414.0 1072.1,1425.8 1074.8,1437.5 1077.9,1449.2 1081.4,1460.7 1085.4,1472.0 1090.1,1483.1 1095.5,1493.8 1101.5,1504.1 1107.2,1514.5 1112.5,1525.3 1117.8,1536.1 1123.3,1546.8 1128.9,1557.4 1135.5,1567.4 1143.4,1576.2 1152.9,1583.3 1163.5,1588.7 1174.8,1592.5 1186.5,1595.5 1198.2,1598.3 1209.9,1601.1 1221.7,1603.5 1233.6,1605.4 1245.5,1606.6 1257.5,1607.2 1269.5,1608.0 1281.4,1609.3 1293.4,1610.6 1305.4,1611.9 1317.4,1613.0 1329.4,1614.2 1341.3,1615.5 1353.3,1617.0 1365.2,1618.6 1377.2,1619.8 1389.2,1620.7 1401.2,1621.2 1413.2,1621.5 1425.3,1621.9 1437.3,1622.5 1449.4,1622.8 1461.4,1622.9 1473.5,1622.8 1485.5,1622.7 1485.5,1622.7 1522.6,1624.0 1531.9,1623.1 1559.7,1621.1 1564.1,1621.6 1568.4,1621.4 1572.8,1621.7 1577.1,1621.8 1581.4,1622.1 1585.8,1621.8 1590.1,1622.3 1594.5,1622.8 1598.8,1622.9 1603.1,1623.1 1607.5,1623.5 1611.8,1623.3 1616.2,1623.7 1620.5,1624.1 1624.8,1623.9 1629.2,1624.2 1633.5,1624.0 1637.9,1624.0 1642.2,1624.4 1646.5,1624.1 1650.9,1624.4 1655.2,1624.4 1659.6,1624.8 1663.9,1625.5 1668.2,1625.3 1672.6,1625.3 1676.9,1626.3 1681.3,1626.8 1685.6,1626.0 1689.9,1625.5 1694.3,1627.5 1698.6,1627.7 1703.0,1626.4 1707.3,1626.7 1711.6,1625.6 1716.0,1626.5 1720.3,1626.7 1724.7,1627.1 1729.0,1627.1 1733.3,1627.4 1737.7,1627.3 1742.0,1628.3 1746.4,1627.4 1750.7,1627.4 1755.0,1628.2 1759.4,1628.7 1763.7,1628.2 1768.1,1628.2 1772.4,1629.1 1776.7,1628.0 1781.1,1628.6 1785.4,1629.9 1789.8,1629.7 1794.1,1629.4 1798.4,1630.0 1802.8,1629.3 1807.1,1629.1 1811.5,1630.4 1815.8,1630.7 1820.1,1629.9 1824.5,1630.9 1828.8,1632.2 1833.2,1632.6 1837.5,1631.3 1841.8,1630.4 1846.2,1631.1 1850.5,1628.9 1854.9,1630.1 1859.2,1631.6 1863.5,1631.2 1867.9,1631.3 1872.2,1633.0 1876.6,1632.5 1880.9,1632.9 1885.2,1632.5 1889.6,1631.6 1893.9,1633.2 1898.3,1632.9 1902.6,1632.3 1906.9,1633.4 1911.3,1634.7 1915.6,1635.5 1920.0,1635.1 1924.3,1632.7 1928.6,1633.5 1933.0,1633.7 1937.3,1633.7 1941.7,1631.9 1946.0,1631.9 1950.3,1633.6 1954.7,1633.7 1959.0,1633.3 1963.4,1632.0 1967.7,1633.4 1972.0,1634.8 1976.4,1635.5 1980.7,1635.5 1985.1,1633.6 1989.4,1635.0 1993.7,1633.5 1998.1,1633.8 2002.4,1635.1 2006.8,1634.7 2011.1,1635.2 2015.4,1635.7 2019.8,1635.5 2024.1,1636.5 2028.5,1634.3 2032.8,1634.1 2037.1,1635.5 2041.5,1635.3 2045.8,1635.9 2050.2,1635.7 2054.5,1635.3 2058.8,1635.7 2063.2,1635.2 2067.5,1635.9 2071.9,1636.0 2076.2,1636.3 2080.5,1637.0 2084.9,1635.6 2089.2,1635.2 2093.6,1636.0 2097.9,1634.9 2102.2,1634.7 2106.6,1637.6 2110.9,1636.3 2115.3,1636.8 2119.6,1637.0 2123.9,1636.8 2128.3,1635.6 2132.6,1634.5 2137.0,1635.1 2141.3,1636.1 2145.6,1635.0 2150.0,1636.5 2154.3,1636.6 2158.7,1635.5 2163.0,1636.8 2167.3,1635.4 2171.7,1637.6 2176.0,1636.8 2180.4,1636.9 2184.7,1636.0 2189.0,1637.1 2193.4,1637.5 2197.7,1635.5 2202.1,1634.2 2206.4,1634.6 2210.7,1637.7 2215.1,1637.1 2219.4,1635.4 2223.8,1636.9 2228.1,1635.2 2232.4,1636.1 2236.8,1636.2 2241.1,1636.2 2245.5,1637.2 2249.8,1636.6 2254.1,1636.7 2258.5,1636.6 2262.8,1637.7 2267.2,1638.0 2271.5,1638.5 2275.8,1636.9 2280.2,1636.5 2284.5,1636.4 2288.9,1634.4 2293.2,1633.6 2297.5,1635.1 2301.9,1633.7 2306.2,1632.1 2310.6,1628.3 2314.9,1625.8 2319.2,1626.6 2323.6,1628.8 2327.9,1631.7 2332.3,1634.0 2336.6,1634.7 2340.9,1634.3 2345.3,1634.7 2349.6,1635.0 2354.0,1635.4 2358.3,1637.1 2362.6,1635.6 2367.0,1634.0 2371.3,1634.9 2375.7,1636.3 2380.0,1634.3 2384.3,1635.3 2388.7,1635.9 2393.0,1636.3 2397.4,1636.2 2399.5,1636.1"/>
<polyline class="c" stroke="#000080" points="228.3,1495.1 237.1,1495.1 246.4,1502.1 251.0,1516.0 258.0,1495.1 264.9,1460.3 269.6,1437.1 273.1,1441.8 274.2,1460.3 278.8,1471.9 292.8,1471.9 304.4,1460.3 311.3,1495.1 318.3,1526.4 325.2,1495.1 333.3,1462.6 339.1,1437.1 346.1,1418.6 349.6,1379.1 351.9,1358.3 355.4,1359.4 360.0,1379.1 363.5,1390.7 367.0,1369.9 369.3,1344.4 371.6,1332.8 373.9,1309.6 385.5,1298.0 402.0,1259.9 404.4,1207.9 407.8,1161.5 411.3,1138.3 414.8,1119.7 418.3,1105.8 422.9,1091.9 426.4,1068.7 429.9,1045.5 433.3,1027.0 439.1,1008.4 446.1,999.1 448.4,976.0 450.7,952.8 453.1,929.6 454.9,913.3 457.7,901.7 463.5,894.8 469.3,890.1 472.8,880.9 475.1,860.0 478.8,827.9 482.3,809.3 485.3,788.4 488.1,788.0 492.8,796.6 497.4,791.9 500.9,782.6 506.7,774.5 510.2,762.9 513.6,742.1 516.0,721.2 519.4,718.9 524.1,725.4 528.7,717.7 531.0,702.6 535.7,699.2 541.5,701.5 543.8,688.7 544.9,670.2 550.7,660.9 557.7,652.8 562.3,665.5 567.0,657.4 572.8,648.1 578.6,636.5 583.2,640.0 589.0,640.0 592.0,615.7 596.0,621.5 601.8,634.9 607.6,628.4 613.4,615.7 619.2,613.3 622.6,608.7 631.9,611.0 638.9,610.3 645.8,611.7 649.3,602.9 653.9,601.8 659.7,606.4 666.2,612.2 671.3,605.2 674.8,598.3 680.6,600.1 687.6,597.8 692.7,601.1 695.7,593.6 701.5,592.5 706.1,582.0 713.1,576.2 717.7,568.1 724.7,564.6 731.6,560.0 740.9,555.4 745.5,563.5 749.0,571.6 754.8,571.6 758.3,561.2 766.4,563.5 771.1,562.3 775.7,553.1 780.3,551.9 783.8,561.2 789.6,563.5 796.6,558.8 801.2,555.4 805.8,560.0 810.5,564.6 817.4,565.8 823.2,562.3 826.7,548.4 831.4,548.4 836.0,556.5 839.5,569.3 844.1,575.1 849.9,578.6 858.0,587.8 861.5,596.0 865.0,602.9 869.6,605.2 875.4,605.2 880.1,614.5 884.7,626.1 888.2,633.1 896.3,636.5 900.0,642.3 900.0,641.9 903.2,650.0 903.8,655.3 910.3,662.7 914.0,675.7 916.8,684.9 922.4,694.2 927.0,705.3 930.7,718.3 934.4,731.3 938.1,746.2 941.8,761.0 946.5,777.7 951.1,792.5 954.8,805.5 957.6,820.4 961.3,842.6 963.7,854.5 966.1,866.3 968.4,878.1 970.8,890.0 973.1,901.8 975.4,913.6 977.7,924.9 980.6,934.2 984.3,941.7 987.5,950.9 990.0,962.2 992.4,974.0 994.7,985.9 997.1,997.7 999.3,1009.6 1001.2,1021.5 1003.1,1033.4 1005.0,1045.3 1007.1,1057.2 1009.2,1069.1 1011.1,1081.0 1012.9,1092.9 1014.7,1104.9 1016.5,1116.8 1018.3,1128.7 1020.1,1140.7 1021.9,1152.6 1023.6,1164.5 1025.3,1176.5 1027.0,1188.4 1028.8,1200.4 1031.1,1212.2 1033.6,1224.0 1036.0,1235.8 1038.3,1247.7 1040.6,1259.5 1042.9,1271.4 1045.2,1283.2 1047.4,1295.1 1049.6,1307.0 1051.8,1318.8 1054.0,1330.7 1056.2,1342.5 1058.5,1354.4 1060.9,1366.2 1063.4,1378.0 1065.9,1389.8 1068.4,1401.6 1070.9,1413.4 1073.4,1425.3 1076.1,1437.0 1079.1,1448.7 1082.3,1460.3 1085.5,1472.0 1088.9,1483.5 1092.5,1495.0 1096.3,1506.4 1100.3,1517.7 1104.7,1529.0 1109.4,1540.1 1114.4,1551.0 1119.6,1561.9 1125.3,1572.6 1131.5,1582.9 1138.5,1592.5 1146.7,1601.3 1156.0,1608.9 1166.0,1615.4 1176.7,1620.9 1187.9,1625.1 1199.5,1628.1 1211.3,1630.3 1223.3,1631.9 1235.3,1633.2 1247.3,1634.4 1259.3,1635.7 1271.3,1637.0 1283.3,1638.4 1295.3,1639.6 1307.3,1640.8 1319.3,1641.9 1331.3,1642.8 1343.4,1643.7 1355.4,1644.2 1367.5,1644.5 1379.5,1644.8 1391.6,1645.2 1403.7,1645.5 1415.7,1645.7 1427.8,1645.8 1439.9,1645.9 1451.9,1645.6 1463.9,1645.1 1476.0,1644.9 1488.0,1644.9 1500.1,1644.6 1504.1,1644.4 1522.6,1642.6 1531.9,1637.0 1541.2,1635.2 1545.5,1635.0 1549.9,1635.1 1554.2,1634.8 1558.5,1635.1 1562.9,1635.0 1567.2,1634.5 1571.6,1634.8 1575.9,1634.8 1580.2,1634.0 1584.6,1634.7 1588.9,1634.9 1593.3,1636.0 1597.6,1636.2 1601.9,1636.1 1606.3,1636.7 1610.6,1636.7 1615.0,1636.6 1619.3,1637.3 1623.6,1637.0 1628.0,1636.2 1632.3,1636.0 1636.7,1636.1 1641.0,1636.2 1645.3,1635.7 1649.7,1635.6 1654.0,1636.0 1658.4,1635.6 1662.7,1635.2 1667.0,1634.8 1671.4,1635.5 1675.7,1635.3 1680.1,1635.7 1684.4,1636.6 1688.7,1636.0 1693.1,1636.1 1697.4,1636.5 1701.8,1636.8 1706.1,1637.5 1710.4,1638.9 1714.8,1638.8 1719.1,1639.4 1723.5,1639.9 1727.8,1638.6 1732.1,1639.3 1736.5,1640.3 1740.8,1639.5 1745.2,1639.8 1749.5,1641.2 1753.8,1640.7 1758.2,1639.0 1762.5,1639.3 1766.9,1639.5 1771.2,1641.2 1775.5,1640.1 1779.9,1640.6 1784.2,1639.3 1788.6,1638.8 1792.9,1639.3 1797.2,1638.4 1801.6,1638.2 1805.9,1639.1 1810.3,1639.8 1814.6,1639.6 1818.9,1639.6 1823.3,1639.8 1827.6,1640.3 1832.0,1638.2 1836.3,1638.0 1840.6,1637.1 1845.0,1636.8 1849.3,1636.7 1853.7,1636.6 1858.0,1636.9 1862.3,1637.5 1866.7,1636.6 1871.0,1635.0 1875.4,1635.5 1879.7,1636.0 1884.0,1634.8 1888.4,1635.4 1892.7,1637.2 1897.1,1635.9 1901.4,1637.0 1905.7,1638.3 1910.1,1638.9 1914.4,1637.4 1918.8,1636.8 1923.1,1637.0 1927.4,1637.4 1931.8,1638.7 1936.1,1639.1 1940.5,1639.2 1944.8,1637.8 1949.1,1638.3 1953.5,1639.8 1957.8,1641.2 1962.2,1641.3 1966.5,1641.6 1970.8,1640.8 1975.2,1643.3 1979.5,1644.4 1983.9,1645.2 1988.2,1646.0 1992.5,1646.6 1996.9,1647.3 2001.2,1647.7 2005.6,1648.3 2009.9,1647.9 2014.2,1646.1 2018.6,1643.7 2022.9,1641.8 2027.3,1640.6 2031.6,1640.0 2035.9,1640.5 2040.3,1639.0 2044.6,1638.1 2049.0,1637.8 2053.3,1640.2 2057.6,1640.9 2062.0,1641.5 2066.3,1644.1 2070.7,1645.7 2075.0,1646.3 2079.3,1647.3 2083.7,1647.4 2088.0,1647.9 2092.4,1650.1 2096.7,1649.2 2101.0,1649.6 2105.4,1649.3 2109.7,1649.8 2114.1,1651.0 2118.4,1650.2 2122.7,1651.7 2127.1,1650.2 2131.4,1648.9 2135.8,1647.4 2140.1,1647.9 2144.4,1648.7 2148.8,1648.9 2153.1,1649.7 2157.5,1649.7 2161.8,1648.1 2166.1,1648.3 2170.5,1647.9 2174.8,1647.4 2179.2,1647.1 2183.5,1647.3 2187.8,1647.7 2192.2,1645.7 2196.5,1646.0 2200.9,1649.2 2205.2,1649.7 2209.5,1648.6 2213.9,1647.6 2218.2,1648.4 2222.6,1646.3 2226.9,1647.1 2231.2,1647.4 2235.6,1648.8 2239.9,1647.2 2244.3,1646.9 2248.6,1647.4 2252.9,1647.9 2257.3,1647.2 2261.6,1647.7 2266.0,1650.3 2270.3,1649.0 2274.6,1649.3 2279.0,1649.5 2283.3,1649.4 2287.7,1648.9 2292.0,1650.4 2296.3,1650.8 2300.7,1650.1 2305.0,1651.2 2309.4,1651.9 2313.7,1652.0 2318.0,1652.5 2322.4,1650.9 2326.7,1651.6 2331.1,1651.2 2335.4,1652.3 2339.7,1649.9 2344.1,1648.6 2348.4,1648.8 2352.8,1647.3 2357.1,1647.5 2361.4,1648.1 2365.8,1647.0 2370.1,1646.3 2374.5,1648.5 2378.8,1647.4 2383.1,1647.2 2387.5,1648.1 2391.8,1649.4 2396.2,1648.2 2399.5,1647.2"/>
<polyline class="c" stroke="#8000ff" points="228.3,1323.5 231.3,1332.8 237.1,1342.0 242.9,1339.7 249.9,1352.5 254.5,1344.4 258.4,1336.2 263.8,1344.4 267.3,1342.0 271.9,1352.5 274.2,1337.4 276.1,1324.6 281.2,1345.5 284.6,1325.8 288.1,1306.1 292.8,1307.3 297.4,1318.8 303.2,1329.3 306.7,1330.4 311.3,1318.8 316.0,1309.6 318.7,1289.9 324.1,1291.0 329.9,1285.2 334.5,1277.1 339.1,1274.8 341.9,1286.4 343.8,1263.2 346.1,1247.0 346.2,1234.5 351.0,1233.4 352.2,1214.8 353.3,1197.4 359.1,1207.9 362.6,1194.0 367.3,1189.3 368.4,1168.4 370.7,1145.3 372.4,1122.1 374.2,1101.2 376.5,1080.3 378.8,1061.8 381.2,1043.2 383.5,1039.7 389.3,1038.6 391.6,1022.3 395.1,1001.5 397.4,976.0 399.7,952.8 402.0,929.6 404.4,906.4 406.7,883.2 410.2,864.6 412.5,860.0 416.2,841.8 419.7,816.3 422.0,790.8 424.4,765.3 426.0,739.7 427.4,721.2 430.1,702.6 434.8,691.0 438.3,677.1 440.6,660.9 444.1,640.0 446.4,619.1 448.2,596.0 451.0,572.8 452.2,547.3 455.7,534.5 462.6,528.7 467.3,517.1 469.6,500.9 472.4,497.4 475.4,517.1 477.7,497.4 478.8,480.0 478.9,497.7 478.9,459.5 480.0,436.3 481.2,420.0 482.3,401.5 484.0,394.5 492.8,394.5 497.4,387.6 502.0,376.0 505.5,362.1 509.0,345.8 511.3,331.9 512.9,320.3 514.3,306.4 518.3,294.8 521.8,283.2 524.1,279.0 532.2,279.0 536.8,282.1 541.5,271.6 543.3,260.0 544.9,251.9 549.6,248.4 553.5,243.8 557.7,250.7 562.3,257.7 567.0,262.3 570.5,253.1 573.9,241.5 577.4,228.7 579.7,220.6 583.7,216.4 589.0,221.1 594.3,222.4 598.3,227.1 601.8,234.5 607.6,227.6 612.9,221.8 619.2,219.4 623.1,216.4 628.4,221.8 631.4,232.2 636.5,236.8 640.0,244.9 644.7,248.0 649.3,241.5 657.4,241.0 660.9,249.6 664.4,251.2 669.0,243.8 671.3,234.5 674.8,231.0 680.6,235.7 687.6,246.1 692.7,253.5 698.0,246.1 701.5,238.0 706.1,236.4 713.1,240.3 722.4,238.7 729.3,244.2 740.9,244.2 744.4,255.4 749.0,268.1 753.7,260.0 758.3,255.4 762.9,257.7 766.4,250.7 769.9,236.8 775.7,234.0 782.7,243.8 787.8,239.1 791.9,231.7 797.0,235.7 800.0,244.9 807.0,246.6 812.8,248.4 818.6,244.9 825.6,249.6 831.8,251.9 834.8,267.0 838.3,275.1 844.1,277.4 847.6,283.2 854.5,285.5 860.3,287.8 866.1,291.3 870.8,283.2 875.4,275.1 879.6,272.8 883.5,283.2 887.0,293.6 891.7,299.9 896.3,290.2 902.0,280.1 904.4,291.7 909.0,297.5 918.3,299.9 922.9,308.0 927.6,321.9 932.2,331.2 936.8,338.1 941.5,342.8 944.9,348.6 950.3,347.4 955.4,353.2 961.2,361.3 967.0,364.8 970.5,377.6 975.1,385.7 979.7,398.4 983.2,406.5 992.5,407.7 997.1,418.1 1001.8,428.6 1005.2,441.3 1008.7,454.1 1014.5,468.0 1020.3,481.9 1023.8,495.8 1027.3,507.4 1031.9,521.3 1036.5,532.9 1040.0,558.4 1042.9,570.1 1045.7,581.9 1048.2,593.7 1050.5,605.5 1052.6,617.4 1054.6,629.2 1056.7,641.1 1058.7,653.0 1060.3,664.9 1061.6,676.9 1062.9,688.9 1064.3,700.9 1065.9,712.8 1067.6,724.7 1069.5,736.6 1071.4,748.5 1073.1,760.5 1074.7,772.4 1076.3,784.4 1077.9,796.3 1079.3,808.3 1080.6,820.3 1081.9,832.2 1083.4,844.2 1084.9,856.2 1086.3,868.1 1087.5,880.1 1088.7,892.1 1089.9,904.1 1091.1,916.1 1092.3,928.1 1093.8,940.1 1095.5,952.0 1097.4,963.9 1099.1,975.8 1100.5,987.8 1101.7,999.8 1102.8,1011.8 1104.0,1023.8 1105.3,1035.8 1106.8,1047.7 1108.2,1059.7 1109.6,1071.7 1110.9,1083.6 1112.0,1095.6 1113.1,1107.6 1114.4,1119.6 1115.8,1131.6 1117.0,1143.6 1118.1,1155.6 1119.2,1167.6 1120.1,1179.6 1120.8,1191.6 1121.6,1203.7 1122.6,1215.7 1123.7,1227.7 1124.9,1239.7 1126.3,1251.6 1127.8,1263.6 1129.4,1275.5 1131.0,1287.5 1132.5,1299.5 1133.8,1311.4 1135.0,1323.4 1136.2,1335.4 1137.5,1347.4 1138.8,1359.4 1140.3,1371.3 1141.9,1383.3 1143.5,1395.2 1145.2,1407.2 1147.0,1419.1 1148.9,1431.0 1150.9,1442.9 1152.9,1454.8 1154.9,1466.7 1156.9,1478.5 1159.0,1490.4 1161.4,1502.2 1163.9,1514.0 1166.6,1525.7 1169.5,1537.5 1172.6,1549.1 1175.8,1560.7 1179.4,1572.2 1183.5,1583.5 1188.2,1594.6 1193.7,1605.3 1200.5,1614.9 1209.2,1622.7 1219.5,1628.6 1230.6,1633.0 1242.0,1636.5 1253.1,1640.4 1264.2,1644.3 1275.7,1647.1 1287.6,1649.1 1299.5,1650.7 1311.5,1651.7 1323.5,1652.4 1335.6,1653.1 1347.6,1653.8 1359.5,1654.6 1371.6,1654.9 1383.6,1654.8 1395.7,1654.6 1407.7,1654.3 1419.8,1654.0 1431.8,1653.5 1443.9,1653.0 1455.9,1652.4 1467.9,1651.9 1480.0,1651.5 1492.0,1651.2 1504.1,1650.9 1504.1,1650.9 1522.6,1648.1 1530.1,1642.6 1541.2,1641.0 1545.5,1641.6 1549.9,1641.5 1554.2,1642.3 1558.5,1643.2 1562.9,1642.8 1567.2,1642.5 1571.6,1642.6 1575.9,1642.6 1580.2,1643.0 1584.6,1642.9 1588.9,1642.9 1593.3,1642.6 1597.6,1643.2 1601.9,1643.0 1606.3,1643.4 1610.6,1643.1 1615.0,1643.2 1619.3,1643.4 1623.6,1643.7 1628.0,1643.4 1632.3,1642.5 1636.7,1643.2 1641.0,1642.5 1645.3,1643.3 1649.7,1643.7 1654.0,1643.3 1658.4,1643.4 1662.7,1644.0 1667.0,1642.9 1671.4,1643.5 1675.7,1643.7 1680.1,1644.3 1684.4,1643.6 1688.7,1643.3 1693.1,1644.0 1697.4,1644.4 1701.8,1645.0 1706.1,1644.7 1710.4,1643.1 1714.8,1642.9 1719.1,1642.5 1723.5,1643.6 1727.8,1642.3 1732.1,1642.8 1736.5,1644.3 1740.8,1642.5 1745.2,1642.3 1749.5,1643.8 1753.8,1643.5 1758.2,1645.1 1762.5,1644.9 1766.9,1645.0 1771.2,1646.6 1775.5,1645.9 1779.9,1646.0 1784.2,1644.4 1788.6,1644.9 1792.9,1644.1 1797.2,1645.4 1801.6,1644.5 1805.9,1644.9 1810.3,1646.5 1814.6,1646.6 1818.9,1644.4 1823.3,1644.8 1827.6,1644.6 1832.0,1644.2 1836.3,1645.0 1840.6,1643.4 1845.0,1643.6 1849.3,1643.7 1853.7,1645.5 1858.0,1643.4 1862.3,1644.7 1866.7,1644.6 1871.0,1645.0 1875.4,1646.7 1879.7,1648.4 1884.0,1647.4 1888.4,1646.5 1892.7,1646.1 1897.1,1645.6 1901.4,1643.5 1905.7,1643.9 1910.1,1644.4 1914.4,1645.7 1918.8,1646.3 1923.1,1646.3 1927.4,1647.3 1931.8,1646.5 1936.1,1647.0 1940.5,1646.1 1944.8,1646.7 1949.1,1646.3 1953.5,1646.8 1957.8,1647.4 1962.2,1646.4 1966.5,1646.9 1970.8,1648.2 1975.2,1644.9 1979.5,1644.2 1983.9,1646.4 1988.2,1647.4 1992.5,1647.6 1996.9,1646.1 2001.2,1646.1 2005.6,1647.6 2009.9,1647.2 2014.2,1647.6 2018.6,1646.5 2022.9,1647.8 2027.3,1649.7 2031.6,1646.9 2035.9,1647.3 2040.3,1648.1 2044.6,1648.1 2049.0,1647.4 2053.3,1647.8 2057.6,1648.2 2062.0,1647.4 2066.3,1647.7 2070.7,1645.7 2075.0,1647.6 2079.3,1648.2 2083.7,1647.5 2088.0,1646.4 2092.4,1644.0 2096.7,1642.0 2101.0,1642.0 2105.4,1640.5 2109.7,1641.1 2114.1,1642.5 2118.4,1642.4 2122.7,1642.5 2127.1,1642.7 2131.4,1643.0 2135.8,1643.9 2140.1,1644.2 2144.4,1644.7 2148.8,1642.0 2153.1,1642.9 2157.5,1641.9 2161.8,1641.2 2166.1,1641.8 2170.5,1641.1 2174.8,1640.2 2179.2,1639.3 2183.5,1640.8 2187.8,1646.7 2192.2,1649.9 2196.5,1647.7 2200.9,1645.5 2205.2,1644.6 2209.5,1642.3 2213.9,1641.8 2218.2,1642.0 2222.6,1641.4 2226.9,1639.8 2231.2,1638.3 2235.6,1638.3 2239.9,1638.3 2244.3,1638.2 2248.6,1637.6 2252.9,1639.2 2257.3,1639.8 2261.6,1642.5 2266.0,1640.8 2270.3,1640.5 2274.6,1641.4 2279.0,1640.4 2283.3,1639.4 2287.7,1637.1 2292.0,1632.3 2296.3,1633.4 2300.7,1635.9 2305.0,1639.4 2309.4,1640.8 2313.7,1640.7 2318.0,1639.6 2322.4,1640.5 2326.7,1640.4 2331.1,1640.3 2335.4,1639.9 2339.7,1640.6 2344.1,1640.5 2348.4,1641.3 2352.8,1640.0 2357.1,1640.9 2361.4,1640.4 2365.8,1639.6 2370.1,1640.3 2374.5,1640.7 2378.8,1641.3 2383.1,1641.2 2387.5,1641.0 2391.8,1642.0 2396.2,1640.6 2399.5,1641.6"/>
<polyline class="c" stroke="#800080" points="228.3,1483.5 232.5,1518.3 234.8,1564.7 236.6,1589.0 239.4,1541.5 240.6,1471.9 241.7,1437.1 246.4,1483.5 253.3,1471.9 260.3,1483.5 266.1,1518.3 271.4,1545.0 276.5,1518.3 281.2,1506.7 288.1,1483.5 291.6,1529.9 297.4,1551.9 302.0,1536.8 306.7,1506.7 316.0,1495.1 322.9,1521.8 326.4,1495.1 332.2,1483.5 336.8,1483.5 339.1,1495.1 344.9,1519.5 348.4,1495.1 350.7,1471.9 353.1,1448.7 357.7,1425.5 358.9,1407.0 362.3,1409.3 367.0,1425.5 373.9,1402.3 378.6,1379.1 382.1,1351.3 385.5,1339.7 390.2,1356.0 393.6,1358.3 397.1,1351.3 399.4,1332.8 401.8,1309.6 404.1,1300.3 408.7,1274.8 413.4,1267.8 415.9,1259.9 417.1,1242.7 420.6,1219.5 425.2,1196.3 429.9,1168.4 433.3,1149.9 438.0,1138.3 442.6,1129.0 443.8,1112.8 447.3,1087.3 450.7,1066.4 455.4,1074.5 460.0,1076.1 465.8,1068.7 469.3,1059.4 470.5,1036.3 472.8,1017.7 476.3,1001.5 480.9,989.9 485.5,976.0 489.0,962.0 490.6,940.0 497.1,941.2 505.2,940.0 509.9,927.3 512.9,911.0 519.2,906.4 522.2,887.8 529.6,899.0 536.5,898.3 541.2,885.5 545.8,876.2 549.3,860.0 549.4,851.1 551.9,842.9 557.7,837.1 562.3,844.1 568.1,846.4 572.8,832.5 576.3,816.3 579.7,809.3 585.5,807.0 591.3,803.5 597.1,812.8 601.8,814.0 606.4,804.7 612.2,795.4 618.0,791.9 622.6,787.3 628.4,795.4 634.2,791.9 641.2,788.4 644.7,797.7 648.1,790.8 649.3,779.2 655.1,781.5 662.1,776.8 667.9,767.6 673.7,762.9 679.5,772.2 685.3,780.3 689.9,767.6 695.7,762.9 701.5,765.3 706.1,756.0 709.6,752.5 714.2,758.3 720.0,753.7 724.7,746.7 728.2,744.4 736.3,751.3 744.4,756.0 752.5,753.7 759.5,744.4 765.3,737.4 773.4,740.9 780.3,737.0 786.1,739.3 794.2,737.0 801.2,739.7 808.2,733.9 815.1,733.9 820.9,728.6 825.6,727.0 831.4,735.1 834.8,746.7 839.5,751.3 845.3,750.2 852.2,757.1 859.2,764.1 868.5,767.6 877.7,771.0 884.7,780.3 891.7,783.8 900.0,790.8 909.4,807.4 914.0,817.6 918.6,825.9 923.3,835.2 931.6,845.4 936.3,855.6 940.9,866.8 945.0,878.1 949.2,889.4 953.4,900.8 957.8,912.0 962.0,923.3 966.0,934.7 969.9,946.2 973.6,957.7 976.9,969.3 980.3,980.8 984.5,992.1 989.5,1003.0 994.4,1014.1 998.6,1025.4 1002.3,1036.9 1006.1,1048.3 1010.2,1059.6 1014.8,1070.8 1020.0,1081.7 1025.0,1092.6 1029.2,1103.8 1032.7,1115.4 1036.2,1127.0 1039.8,1138.5 1043.7,1149.9 1047.6,1161.3 1051.4,1172.8 1055.0,1184.4 1058.6,1195.9 1062.3,1207.4 1065.9,1218.9 1069.2,1230.5 1072.3,1242.2 1075.2,1253.9 1078.1,1265.7 1081.1,1277.4 1084.1,1289.1 1087.1,1300.8 1090.1,1312.5 1093.1,1324.2 1096.2,1335.9 1099.1,1347.6 1101.9,1359.4 1104.5,1371.2 1107.1,1383.0 1109.7,1394.8 1112.3,1406.6 1114.9,1418.4 1117.4,1430.2 1119.9,1442.0 1122.3,1453.9 1124.7,1465.7 1127.3,1477.5 1130.4,1489.1 1134.0,1500.1 1137.8,1509.7 1141.4,1519.0 1145.2,1529.5 1149.1,1540.8 1153.2,1552.2 1157.5,1563.5 1162.4,1574.5 1167.9,1585.2 1174.2,1595.5 1181.3,1605.2 1189.3,1614.2 1198.0,1622.5 1207.4,1630.1 1217.4,1636.7 1228.1,1642.0 1239.4,1646.0 1251.1,1649.0 1262.9,1651.3 1274.9,1653.1 1286.9,1654.5 1298.9,1655.7 1310.9,1656.9 1323.0,1658.0 1335.0,1658.8 1347.1,1659.4 1359.1,1660.1 1371.2,1660.8 1383.3,1661.3 1395.3,1661.6 1407.4,1661.7 1419.5,1661.9 1431.6,1662.1 1443.7,1662.2 1455.8,1662.2 1467.8,1662.2 1479.9,1662.4 1492.0,1662.5 1504.1,1662.4 1504.1,1662.4 1522.6,1661.1 1530.1,1655.5 1541.2,1653.4 1545.5,1653.6 1549.9,1653.8 1554.2,1654.2 1558.5,1654.4 1562.9,1654.5 1567.2,1656.0 1571.6,1656.5 1575.9,1656.3 1580.2,1656.5 1584.6,1656.8 1588.9,1657.7 1593.3,1658.3 1597.6,1657.8 1601.9,1657.1 1606.3,1656.3 1610.6,1657.2 1615.0,1657.1 1619.3,1657.2 1623.6,1657.6 1628.0,1657.5 1632.3,1658.6 1636.7,1659.3 1641.0,1660.0 1645.3,1660.1 1649.7,1660.4 1654.0,1660.2 1658.4,1659.1 1662.7,1658.9 1667.0,1659.7 1671.4,1660.1 1675.7,1659.4 1680.1,1659.6 1684.4,1659.9 1688.7,1659.7 1693.1,1659.6 1697.4,1660.2 1701.8,1661.7 1706.1,1662.4 1710.4,1663.2 1714.8,1664.3 1719.1,1663.5 1723.5,1661.5 1727.8,1660.5 1732.1,1662.8 1736.5,1663.6 1740.8,1665.1 1745.2,1663.6 1749.5,1662.8 1753.8,1663.5 1758.2,1664.0 1762.5,1662.2 1766.9,1661.8 1771.2,1661.6 1775.5,1662.4 1779.9,1663.4 1784.2,1663.1 1788.6,1663.4 1792.9,1663.4 1797.2,1663.2 1801.6,1662.3 1805.9,1663.5 1810.3,1663.3 1814.6,1662.7 1818.9,1662.8 1823.3,1661.6 1827.6,1662.1 1832.0,1663.7 1836.3,1664.7 1840.6,1665.2 1845.0,1664.4 1849.3,1664.1 1853.7,1664.0 1858.0,1665.5 1862.3,1665.3 1866.7,1664.8 1871.0,1663.8 1875.4,1662.4 1879.7,1661.4 1884.0,1660.6 1888.4,1661.4 1892.7,1660.9 1897.1,1660.8 1901.4,1661.9 1905.7,1663.4 1910.1,1663.6 1914.4,1663.8 1918.8,1665.1 1923.1,1665.0 1927.4,1664.8 1931.8,1664.9 1936.1,1666.2 1940.5,1663.6 1944.8,1664.2 1949.1,1664.0 1953.5,1661.4 1957.8,1660.6 1962.2,1662.0 1966.5,1662.9 1970.8,1665.3 1975.2,1665.5 1979.5,1664.9 1983.9,1665.4 1988.2,1664.3 1992.5,1665.9 1996.9,1665.1 2001.2,1665.6 2005.6,1664.3 2009.9,1665.7 2014.2,1666.6 2018.6,1666.8 2022.9,1666.2 2027.3,1666.1 2031.6,1663.9 2035.9,1664.7 2040.3,1666.7 2044.6,1668.7 2049.0,1667.7 2053.3,1665.3 2057.6,1665.8 2062.0,1665.7 2066.3,1666.3 2070.7,1664.5 2075.0,1665.0 2079.3,1665.6 2083.7,1664.9 2088.0,1663.8 2092.4,1664.5 2096.7,1662.7 2101.0,1661.7 2105.4,1660.8 2109.7,1663.6 2114.1,1666.0 2118.4,1666.9 2122.7,1667.9 2127.1,1669.2 2131.4,1668.3 2135.8,1666.1 2140.1,1666.7 2144.4,1662.5 2148.8,1662.1 2153.1,1660.5 2157.5,1661.1 2161.8,1661.2 2166.1,1662.3 2170.5,1662.9 2174.8,1663.0 2179.2,1665.5 2183.5,1665.6 2187.8,1666.6 2192.2,1666.0 2196.5,1666.6 2200.9,1667.4 2205.2,1666.2 2209.5,1665.0 2213.9,1663.5 2218.2,1667.6 2222.6,1669.7 2226.9,1666.1 2231.2,1666.0 2235.6,1662.8 2239.9,1662.0 2244.3,1659.8 2248.6,1658.6 2252.9,1660.1 2257.3,1661.3 2261.6,1664.6 2266.0,1663.4 2270.3,1661.4 2274.6,1661.3 2279.0,1658.9 2283.3,1656.8 2287.7,1658.2 2292.0,1658.6 2296.3,1659.0 2300.7,1659.5 2305.0,1661.9 2309.4,1661.4 2313.7,1662.0 2318.0,1663.9 2322.4,1663.8 2326.7,1661.4 2331.1,1659.6 2335.4,1661.5 2339.7,1663.9 2344.1,1664.2 2348.4,1666.2 2352.8,1667.0 2357.1,1668.2 2361.4,1666.6 2365.8,1667.0 2370.1,1664.4 2374.5,1661.4 2378.8,1662.0 2383.1,1660.6 2387.5,1657.9 2391.8,1658.3 2396.2,1656.9 2399.5,1658.3"/>
<polyline class="c" stroke="#800000" points="228.3,1471.9 233.6,1474.2 237.1,1460.3 240.6,1444.1 244.1,1425.5 248.7,1409.3 252.2,1416.3 254.5,1437.1 258.0,1455.7 262.6,1460.3 266.1,1471.9 271.9,1471.9 278.8,1425.5 283.5,1411.6 287.0,1416.3 290.4,1430.2 297.4,1448.7 311.3,1471.9 325.2,1483.5 329.9,1425.5 334.5,1402.3 338.0,1379.1 341.5,1360.6 344.9,1353.6 348.4,1356.0 350.7,1369.9 354.2,1379.1 357.7,1393.1 362.3,1397.7 367.0,1379.1 371.6,1332.8 376.3,1309.6 380.9,1298.0 385.5,1286.4 389.0,1263.2 391.6,1259.9 395.1,1235.7 398.6,1203.2 402.0,1166.1 405.5,1156.8 416.0,1149.9 419.4,1142.9 422.9,1115.1 426.4,1091.9 429.9,1068.7 434.5,1045.5 439.1,1022.3 443.8,1003.8 450.7,959.7 454.2,949.3 457.7,959.7 460.0,982.9 463.5,986.4 465.8,969.0 469.3,950.4 472.8,929.6 476.3,897.1 479.7,880.9 482.1,869.3 485.5,860.0 487.0,856.9 492.8,862.7 499.7,862.7 507.8,860.3 511.3,851.1 514.8,827.9 518.3,809.3 521.8,798.9 526.4,798.2 532.2,801.2 536.8,786.1 541.5,767.6 548.4,764.1 551.9,735.1 555.4,721.2 558.9,716.1 561.9,728.1 562.3,753.7 565.8,761.8 571.6,758.3 575.1,746.7 579.7,742.1 584.4,732.8 592.5,730.5 599.4,723.5 605.2,725.8 611.0,721.2 615.7,702.6 619.2,688.7 623.1,686.4 628.4,693.4 634.2,699.2 638.9,709.6 643.5,721.2 650.5,714.2 655.1,713.1 662.1,714.2 669.0,702.6 674.8,694.5 681.8,695.7 688.7,692.2 696.8,692.2 703.8,688.7 709.6,682.2 713.1,687.6 720.0,689.9 727.0,692.2 732.8,693.4 739.7,689.9 745.5,681.8 751.3,689.9 758.3,682.9 766.4,674.8 775.7,667.4 782.7,677.1 789.6,670.2 796.6,658.6 800.0,656.3 805.8,662.1 812.8,667.8 822.1,671.3 831.4,666.7 836.0,670.2 840.6,679.4 845.3,685.2 851.1,685.2 856.9,691.0 863.8,696.8 870.8,696.8 877.7,703.8 884.7,710.8 889.3,716.5 900.0,722.3 908.4,730.4 914.0,738.7 920.5,753.6 927.9,770.3 932.6,779.6 939.1,785.1 948.3,792.5 959.5,801.8 966.9,812.9 972.4,822.2 976.2,833.4 979.9,846.3 985.4,855.6 991.0,863.0 996.6,873.2 1002.1,879.7 1005.8,889.0 1011.4,898.3 1015.1,907.6 1017.9,918.7 1021.6,929.8 1025.3,940.0 1028.3,943.1 1034.2,953.6 1039.1,964.5 1042.8,975.9 1045.9,987.6 1048.9,999.3 1052.1,1011.0 1055.2,1022.6 1058.1,1034.4 1060.7,1046.2 1063.3,1058.0 1066.0,1069.8 1068.9,1081.5 1072.0,1093.2 1075.1,1104.8 1078.0,1116.6 1080.9,1128.3 1083.8,1140.1 1086.5,1151.8 1089.0,1163.6 1091.4,1175.5 1093.4,1187.4 1095.4,1199.3 1097.8,1211.2 1100.4,1223.0 1102.9,1234.8 1105.2,1246.6 1107.5,1258.5 1109.7,1270.4 1112.0,1282.3 1114.4,1294.1 1116.9,1306.0 1119.3,1317.8 1121.7,1329.7 1123.8,1341.6 1126.0,1353.5 1128.0,1365.4 1129.8,1377.3 1131.5,1389.3 1133.1,1401.3 1134.9,1413.2 1136.7,1425.2 1138.8,1437.1 1141.1,1449.0 1143.6,1460.8 1146.2,1472.6 1149.0,1484.4 1152.0,1496.1 1155.3,1507.7 1158.9,1519.2 1162.7,1530.7 1166.7,1542.1 1170.6,1553.5 1174.4,1565.0 1178.5,1576.4 1182.9,1587.6 1188.0,1598.4 1194.5,1608.3 1202.7,1617.0 1211.9,1624.7 1221.8,1631.4 1232.6,1636.5 1244.0,1640.4 1255.7,1643.5 1267.5,1646.1 1279.4,1648.3 1291.3,1650.2 1303.3,1651.8 1315.3,1653.0 1327.4,1653.7 1339.4,1654.3 1351.3,1655.3 1363.2,1656.6 1375.2,1657.6 1387.3,1658.6 1399.3,1659.3 1411.4,1659.8 1423.5,1660.0 1435.6,1660.1 1447.7,1660.1 1459.8,1660.0 1471.8,1660.0 1483.9,1660.0 1496.0,1659.9 1504.1,1659.8 1522.6,1658.3 1530.1,1652.8 1535.6,1651.8 1550.5,1652.6 1554.8,1653.1 1559.1,1653.6 1563.5,1655.3 1567.8,1656.5 1572.2,1656.6 1576.5,1655.9 1580.8,1655.3 1585.2,1655.1 1589.5,1654.3 1593.9,1653.6 1598.2,1654.2 1602.5,1654.7 1606.9,1654.7 1611.2,1652.5 1615.6,1653.0 1619.9,1654.7 1624.2,1654.7 1628.6,1655.7 1632.9,1655.1 1637.3,1655.8 1641.6,1656.6 1645.9,1657.1 1650.3,1658.5 1654.6,1660.6 1659.0,1659.6 1663.3,1658.6 1667.6,1657.7 1672.0,1657.4 1676.3,1658.1 1680.7,1658.5 1685.0,1658.5 1689.3,1657.6 1693.7,1657.8 1698.0,1658.7 1702.4,1658.1 1706.7,1658.2 1711.0,1657.8 1715.4,1658.9 1719.7,1659.7 1724.1,1659.4 1728.4,1660.6 1732.7,1659.5 1737.1,1658.1 1741.4,1657.6 1745.8,1657.4 1750.1,1657.9 1754.4,1658.8 1758.8,1659.8 1763.1,1661.4 1767.5,1660.3 1771.8,1657.4 1776.1,1658.8 1780.5,1658.5 1784.8,1658.8 1789.2,1660.3 1793.5,1662.1 1797.8,1662.5 1802.2,1661.2 1806.5,1659.2 1810.9,1658.8 1815.2,1660.9 1819.5,1661.4 1823.9,1661.8 1828.2,1661.5 1832.6,1659.7 1836.9,1659.3 1841.2,1659.6 1845.6,1659.9 1849.9,1660.2 1854.3,1659.9 1858.6,1657.2 1862.9,1657.8 1867.3,1658.7 1871.6,1660.4 1876.0,1661.1 1880.3,1661.7 1884.6,1662.9 1889.0,1662.7 1893.3,1664.3 1897.7,1666.4 1902.0,1665.6 1906.3,1663.4 1910.7,1660.0 1915.0,1659.6 1919.4,1658.1 1923.7,1657.9 1928.0,1658.4 1932.4,1658.7 1936.7,1661.5 1941.1,1660.7 1945.4,1663.7 1949.7,1665.9 1954.1,1668.1 1958.4,1665.2 1962.8,1658.8 1967.1,1657.7 1971.4,1659.9 1975.8,1660.4 1980.1,1660.1 1984.5,1661.0 1988.8,1660.5 1993.1,1661.6 1997.5,1661.1 2001.8,1662.5 2006.2,1660.8 2010.5,1659.9 2014.8,1658.8 2019.2,1661.6 2023.5,1660.5 2027.9,1659.5 2032.2,1660.3 2036.5,1660.3 2040.9,1659.6 2045.2,1659.5 2049.6,1660.6 2053.9,1661.2 2058.2,1660.9 2062.6,1661.6 2066.9,1663.7 2071.3,1662.9 2075.6,1664.0 2079.9,1666.0 2084.3,1665.7 2088.6,1668.2 2093.0,1668.1 2097.3,1665.9 2101.6,1666.4 2106.0,1665.9 2110.3,1665.8 2114.7,1663.7 2119.0,1665.2 2123.3,1661.9 2127.7,1659.0 2132.0,1659.2 2136.4,1661.7 2140.7,1663.0 2145.0,1665.5 2149.4,1668.6 2153.7,1667.2 2158.1,1666.0 2162.4,1667.9 2166.7,1668.0 2171.1,1666.9 2175.4,1665.0 2179.8,1664.8 2184.1,1662.5 2188.4,1661.1 2192.8,1661.0 2197.1,1660.6 2201.5,1661.6 2205.8,1659.7 2210.1,1660.9 2214.5,1664.4 2218.8,1665.8 2223.2,1661.8 2227.5,1659.7 2231.8,1661.9 2236.2,1661.5 2240.5,1661.4 2244.9,1663.0 2249.2,1666.3 2253.5,1664.8 2257.9,1661.8 2262.2,1662.9 2266.6,1666.0 2270.9,1670.6 2275.2,1667.1 2279.6,1664.7 2283.9,1662.1 2288.3,1659.4 2292.6,1659.8 2296.9,1663.3 2301.3,1666.7 2305.6,1666.8 2310.0,1664.2 2314.3,1659.3 2318.6,1657.4 2323.0,1660.4 2327.3,1663.3 2331.7,1665.9 2336.0,1667.8 2340.3,1667.6 2344.7,1666.3 2349.0,1664.4 2353.4,1662.1 2357.7,1661.7 2362.0,1664.3 2366.4,1667.8 2370.7,1667.7 2375.1,1666.5 2379.4,1667.0 2383.7,1667.0 2388.1,1664.6 2392.4,1660.9 2396.8,1661.5 2399.5,1661.1"/>
<polyline class="c" stroke="#808000" points="237.1,1300.3 237.6,1332.8 238.3,1379.1 239.4,1402.3 240.6,1425.5 246.4,1427.8 249.9,1448.7 253.3,1471.9 256.8,1495.1 259.8,1518.3 264.9,1527.6 269.6,1534.5 274.2,1495.1 277.7,1460.3 280.0,1430.2 284.6,1418.6 289.3,1430.2 292.8,1441.8 295.1,1471.9 297.4,1495.1 299.7,1518.3 302.0,1532.2 307.8,1525.3 311.3,1495.1 312.5,1448.7 316.0,1420.9 320.6,1402.3 325.2,1401.2 331.0,1409.3 334.5,1416.3 339.1,1402.3 341.5,1386.1 346.1,1381.5 350.7,1402.3 353.1,1379.1 357.7,1368.7 362.3,1373.3 367.0,1376.8 370.5,1349.0 372.8,1331.6 378.6,1330.4 385.5,1332.8 389.0,1309.6 391.3,1291.0 393.9,1259.9 397.4,1249.6 402.0,1231.1 405.5,1207.9 409.0,1184.7 412.5,1161.5 413.6,1138.3 416.0,1124.4 420.6,1115.1 429.9,1103.5 436.8,1087.3 439.1,1068.7 442.6,1054.8 446.1,1033.9 448.4,1010.7 450.7,987.6 453.1,964.4 455.4,945.8 460.0,941.2 470.5,938.8 473.9,924.9 477.4,906.4 480.9,898.3 487.8,894.8 492.5,885.5 496.0,873.9 501.8,869.3 504.1,860.0 505.5,851.1 509.0,827.9 512.5,800.0 516.0,781.5 519.4,775.7 524.1,776.8 527.6,762.9 531.0,772.2 536.8,774.5 541.5,753.7 544.9,735.1 548.4,728.1 555.4,731.6 560.0,739.7 564.7,738.6 568.1,725.8 571.6,707.3 575.1,694.5 583.2,692.2 589.0,699.2 597.1,698.0 602.9,700.3 606.4,687.6 613.4,677.1 619.2,663.2 622.6,658.6 631.9,660.9 643.5,662.1 649.3,650.5 653.9,648.1 659.7,651.6 665.5,655.1 670.2,644.7 674.8,633.1 679.5,642.3 686.4,647.0 692.2,650.5 699.2,644.7 707.3,636.5 715.4,631.9 722.4,626.1 729.3,631.9 736.3,634.2 743.2,633.1 747.9,640.0 752.5,647.0 758.3,635.4 765.3,628.4 771.1,623.8 782.7,631.9 789.6,628.4 796.6,624.9 803.5,630.7 809.3,626.1 815.1,616.8 819.8,615.0 824.4,623.8 830.2,633.1 834.8,642.3 839.5,647.0 848.7,648.1 854.5,653.9 860.3,660.9 865.0,672.5 873.1,673.6 878.9,679.4 883.5,691.0 888.2,696.8 895.1,703.8 900.0,708.4 909.4,721.1 914.9,727.6 917.7,740.6 920.5,746.2 926.1,749.9 929.8,757.3 937.2,764.7 941.8,774.0 944.6,787.0 946.5,798.1 951.1,812.9 955.8,824.1 959.5,835.2 963.2,851.9 967.8,863.0 971.7,874.4 974.9,886.0 977.8,897.7 980.6,909.5 983.3,921.2 986.0,933.0 989.1,944.7 992.4,956.3 995.5,967.9 998.5,979.6 1001.4,991.3 1004.2,1003.1 1006.9,1014.8 1009.4,1026.6 1011.8,1038.5 1014.1,1050.3 1016.4,1062.2 1018.4,1074.1 1020.2,1086.0 1022.1,1097.9 1024.2,1109.8 1026.3,1121.7 1028.4,1133.6 1030.5,1145.5 1032.8,1157.4 1035.1,1169.2 1037.2,1181.1 1039.3,1193.0 1041.3,1204.9 1043.6,1216.7 1045.8,1228.6 1048.1,1240.5 1050.4,1252.3 1052.7,1264.2 1055.2,1276.0 1057.7,1287.8 1060.4,1299.6 1063.1,1311.3 1065.7,1323.1 1068.4,1334.9 1071.0,1346.7 1073.6,1358.5 1076.1,1370.3 1078.5,1382.1 1080.9,1394.0 1083.4,1405.8 1086.0,1417.6 1088.7,1429.3 1091.7,1441.0 1094.8,1452.7 1097.9,1464.4 1101.0,1476.0 1104.3,1487.6 1108.1,1498.8 1113.0,1509.3 1118.4,1519.4 1123.8,1529.9 1129.3,1540.6 1135.2,1551.1 1141.7,1561.3 1149.1,1570.7 1157.7,1579.0 1167.4,1585.9 1178.1,1591.4 1189.3,1595.8 1200.8,1599.4 1212.5,1602.3 1224.3,1604.7 1236.2,1606.6 1248.2,1608.2 1260.2,1609.6 1272.2,1610.9 1284.2,1612.1 1296.2,1613.3 1308.2,1614.4 1320.2,1615.3 1328.3,1615.8 1339.4,1615.8 1343.0,1617.9 1347.9,1637.0 1352.7,1617.9 1355.7,1618.4 1374.2,1620.3 1392.8,1622.2 1411.3,1622.2 1429.9,1622.2 1448.4,1624.0 1457.7,1624.0 1476.3,1622.2 1494.8,1624.0 1522.6,1624.9 1530.1,1618.4 1541.2,1617.2 1545.5,1616.8 1549.9,1616.6 1554.2,1616.3 1558.5,1616.9 1562.9,1617.2 1567.2,1617.9 1571.6,1618.6 1575.9,1619.1 1580.2,1619.1 1584.6,1618.6 1588.9,1617.9 1593.3,1617.7 1597.6,1618.0 1601.9,1618.9 1606.3,1619.5 1610.6,1620.2 1615.0,1621.1 1619.3,1621.0 1623.6,1621.1 1628.0,1620.8 1632.3,1621.2 1636.7,1620.6 1641.0,1621.4 1645.3,1620.6 1649.7,1620.8 1654.0,1620.2 1658.4,1620.4 1662.7,1620.2 1667.0,1620.5 1671.4,1620.3 1675.7,1620.3 1680.1,1619.9 1684.4,1620.5 1688.7,1621.3 1693.1,1620.9 1697.4,1622.2 1701.8,1624.0 1706.1,1623.3 1710.4,1623.1 1714.8,1622.4 1719.1,1622.9 1723.5,1622.6 1727.8,1623.1 1732.1,1624.2 1736.5,1625.2 1740.8,1624.5 1745.2,1624.6 1749.5,1623.4 1753.8,1622.7 1758.2,1622.8 1762.5,1622.9 1766.9,1622.1 1771.2,1624.4 1775.5,1625.1 1779.9,1624.3 1784.2,1625.6 1788.6,1622.8 1792.9,1621.2 1797.2,1622.0 1801.6,1623.0 1805.9,1624.2 1810.3,1624.8 1814.6,1624.6 1818.9,1623.2 1823.3,1625.8 1827.6,1626.1 1832.0,1626.3 1836.3,1625.3 1840.6,1626.1 1845.0,1625.7 1849.3,1625.0 1853.7,1624.6 1858.0,1624.9 1862.3,1626.9 1866.7,1627.6 1871.0,1627.7 1875.4,1624.9 1879.7,1622.0 1884.0,1625.9 1888.4,1627.6 1892.7,1626.6 1897.1,1625.3 1901.4,1625.2 1905.7,1626.0 1910.1,1626.5 1914.4,1625.5 1918.8,1627.7 1923.1,1626.5 1927.4,1626.1 1931.8,1627.2 1936.1,1629.3 1940.5,1628.7 1944.8,1627.5 1949.1,1627.5 1953.5,1628.4 1957.8,1629.1 1962.2,1629.8 1966.5,1630.1 1970.8,1631.0 1975.2,1630.8 1979.5,1630.2 1983.9,1631.8 1988.2,1630.7 1992.5,1630.7 1996.9,1630.3 2001.2,1630.1 2005.6,1629.7 2009.9,1631.5 2014.2,1633.7 2018.6,1631.3 2022.9,1629.6 2027.3,1627.7 2031.6,1626.6 2035.9,1626.6 2040.3,1628.0 2044.6,1630.2 2049.0,1631.2 2053.3,1631.4 2057.6,1631.4 2062.0,1629.2 2066.3,1627.7 2070.7,1628.9 2075.0,1629.5 2079.3,1627.9 2083.7,1627.6 2088.0,1629.6 2092.4,1630.1 2096.7,1629.8 2101.0,1628.8 2105.4,1629.9 2109.7,1629.1 2114.1,1627.9 2118.4,1629.7 2122.7,1630.7 2127.1,1629.0 2131.4,1628.6 2135.8,1629.7 2140.1,1630.6 2144.4,1632.9 2148.8,1633.2 2153.1,1630.1 2157.5,1628.9 2161.8,1628.2 2166.1,1630.3 2170.5,1632.9 2174.8,1636.0 2179.2,1637.3 2183.5,1632.7 2187.8,1630.8 2192.2,1631.6 2196.5,1634.3 2200.9,1632.7 2205.2,1631.6 2209.5,1630.7 2213.9,1631.8 2218.2,1632.8 2222.6,1633.7 2226.9,1632.4 2231.2,1631.7 2235.6,1630.5 2239.9,1629.0 2244.3,1628.9 2248.6,1633.2 2252.9,1636.0 2257.3,1634.4 2261.6,1632.2 2266.0,1631.1 2270.3,1633.5 2274.6,1635.9 2279.0,1635.4 2283.3,1634.1 2287.7,1631.5 2292.0,1634.0 2296.3,1635.0 2300.7,1634.8 2305.0,1634.1 2309.4,1635.0 2313.7,1634.7 2318.0,1632.6 2322.4,1628.4 2326.7,1630.2 2331.1,1633.2 2335.4,1634.1 2339.7,1633.0 2344.1,1632.4 2348.4,1631.8 2352.8,1635.6 2357.1,1635.0 2361.4,1633.7 2365.8,1635.6 2370.1,1637.6 2374.5,1639.5 2378.8,1635.1 2383.1,1633.4 2387.5,1634.9 2391.8,1637.0 2396.2,1636.6 2399.5,1634.2"/>
<polyline class="c" stroke="#2e64a2" points="234.8,1481.2 238.3,1483.5 241.7,1506.7 245.2,1536.8 248.7,1557.7 252.2,1557.7 254.5,1518.3 256.8,1541.5 259.1,1569.3 262.6,1541.5 266.1,1495.1 269.6,1476.5 274.2,1474.2 278.8,1467.3 281.2,1448.7 284.6,1434.8 288.1,1448.7 291.6,1462.6 295.1,1460.3 298.6,1444.1 302.0,1462.6 304.4,1495.1 307.8,1518.3 313.6,1527.6 318.3,1518.3 320.6,1483.5 324.1,1448.7 327.6,1439.4 332.2,1434.8 336.8,1453.4 339.1,1425.5 341.5,1404.7 343.8,1425.5 346.1,1437.1 350.7,1441.8 354.2,1460.3 360.0,1453.4 364.7,1439.4 368.1,1413.9 370.5,1379.1 372.8,1344.4 376.3,1328.1 380.9,1309.6 385.5,1295.7 392.5,1295.7 399.4,1294.5 404.1,1286.4 407.8,1259.9 410.2,1242.7 412.5,1221.8 414.8,1198.6 418.3,1184.7 421.8,1161.5 425.2,1138.3 426.4,1115.1 428.7,1098.9 432.2,1089.6 436.8,1088.4 439.1,1101.2 443.8,1105.8 447.3,1073.4 450.7,1057.1 455.4,1040.9 459.6,1022.3 461.2,1003.8 465.8,996.8 470.5,987.6 473.9,969.0 477.4,948.1 479.7,927.3 483.2,918.0 489.0,923.8 497.1,920.3 501.8,911.0 506.4,901.7 509.9,887.8 513.4,871.6 518.0,860.0 520.6,848.7 525.2,841.8 533.3,840.6 538.0,832.5 542.6,818.6 548.4,804.7 555.4,809.3 558.9,811.6 564.7,804.7 569.3,786.1 571.6,779.2 576.3,779.2 583.2,771.0 590.2,764.1 593.6,758.3 599.4,756.0 604.1,750.2 611.0,747.9 616.8,742.1 621.5,732.8 623.8,722.3 630.8,716.5 634.2,721.2 638.9,732.8 644.7,736.3 648.6,724.7 655.1,730.5 665.5,731.6 672.5,721.2 679.5,710.8 684.1,711.9 687.6,722.3 693.4,714.2 699.2,717.7 706.1,718.9 709.6,706.1 717.7,700.3 721.2,688.7 725.8,685.2 734.0,684.1 740.9,681.8 745.5,694.5 752.5,700.3 758.3,691.0 761.8,686.4 768.7,685.2 774.5,684.1 783.8,693.4 791.9,682.9 800.0,689.9 807.0,684.1 815.1,679.9 824.4,684.1 831.8,678.3 838.3,687.6 845.3,693.4 852.2,698.0 859.2,702.6 866.1,710.8 875.4,710.8 882.4,718.9 887.0,725.8 894.0,729.3 900.0,732.8 907.5,744.3 914.0,751.7 922.4,752.7 926.1,761.0 931.6,766.6 937.2,772.1 942.8,781.4 948.3,790.7 953.9,801.8 959.5,811.1 964.3,822.1 968.3,833.5 971.8,845.0 975.5,856.5 979.5,867.9 983.4,879.3 987.0,890.8 990.3,902.4 993.4,914.1 996.5,925.8 999.7,937.4 1002.9,949.1 1006.1,960.7 1009.2,972.4 1012.0,984.1 1014.7,995.9 1017.4,1007.7 1019.9,1019.5 1022.1,1031.3 1024.1,1043.2 1026.3,1055.1 1028.8,1066.9 1031.6,1078.7 1034.5,1090.4 1037.2,1102.2 1039.6,1114.0 1041.7,1125.9 1043.7,1137.8 1045.7,1149.7 1047.7,1161.7 1049.6,1173.6 1051.4,1185.5 1053.2,1197.5 1055.1,1209.4 1057.3,1221.3 1059.5,1233.2 1061.8,1245.0 1064.1,1256.9 1066.3,1268.7 1068.6,1280.6 1070.9,1292.5 1073.2,1304.3 1075.6,1316.2 1078.1,1328.0 1080.4,1339.8 1082.7,1351.7 1085.0,1363.6 1087.4,1375.4 1089.8,1387.2 1092.3,1399.1 1094.7,1410.9 1097.2,1422.7 1099.9,1434.5 1102.8,1446.2 1106.0,1457.9 1109.2,1469.5 1112.4,1481.1 1116.0,1492.6 1120.3,1503.6 1125.2,1514.1 1130.1,1524.8 1135.1,1535.7 1140.4,1546.5 1146.4,1557.0 1153.3,1566.8 1161.1,1575.9 1169.9,1584.1 1179.6,1591.2 1190.0,1597.1 1201.1,1601.9 1212.5,1605.5 1224.2,1608.5 1236.0,1611.3 1247.8,1613.7 1259.6,1615.3 1271.6,1616.5 1283.5,1618.3 1295.4,1620.4 1307.3,1622.1 1319.3,1623.3 1331.3,1623.9 1343.3,1624.6 1355.3,1625.7 1367.3,1627.0 1379.3,1628.2 1391.4,1629.1 1403.4,1629.5 1415.5,1629.6 1427.6,1629.7 1439.7,1629.8 1451.8,1629.9 1463.8,1629.8 1475.9,1629.9 1488.0,1630.2 1500.1,1630.4 1504.1,1630.5 1522.6,1631.4 1531.9,1627.7 1541.2,1626.3 1545.5,1625.7 1549.9,1625.4 1554.2,1624.8 1558.5,1625.0 1562.9,1626.2 1567.2,1626.0 1571.6,1627.4 1575.9,1627.6 1580.2,1628.0 1584.6,1628.2 1588.9,1628.8 1593.3,1630.1 1597.6,1630.0 1601.9,1630.7 1606.3,1631.6 1610.6,1631.9 1615.0,1631.3 1619.3,1631.3 1623.6,1631.1 1628.0,1630.5 1632.3,1630.9 1636.7,1630.0 1641.0,1629.1 1645.3,1629.5 1649.7,1630.0 1654.0,1630.5 1658.4,1631.2 1662.7,1631.9 1667.0,1631.5 1671.4,1630.2 1675.7,1630.1 1680.1,1630.8 1684.4,1630.9 1688.7,1632.0 1693.1,1633.3 1697.4,1633.0 1701.8,1633.7 1706.1,1633.1 1710.4,1631.9 1714.8,1630.5 1719.1,1630.6 1723.5,1632.7 1727.8,1632.5 1732.1,1632.0 1736.5,1632.4 1740.8,1633.2 1745.2,1634.8 1749.5,1636.0 1753.8,1636.3 1758.2,1635.5 1762.5,1636.6 1766.9,1637.4 1771.2,1637.2 1775.5,1638.3 1779.9,1638.9 1784.2,1636.5 1788.6,1636.6 1792.9,1634.6 1797.2,1633.4 1801.6,1636.1 1805.9,1636.0 1810.3,1638.1 1814.6,1636.1 1818.9,1635.3 1823.3,1636.2 1827.6,1639.3 1832.0,1638.0 1836.3,1636.2 1840.6,1637.5 1845.0,1636.2 1849.3,1637.5 1853.7,1640.2 1858.0,1640.1 1862.3,1641.3 1866.7,1641.1 1871.0,1641.3 1875.4,1639.4 1879.7,1639.7 1884.0,1638.3 1888.4,1638.7 1892.7,1636.7 1897.1,1639.6 1901.4,1638.8 1905.7,1638.5 1910.1,1640.5 1914.4,1640.0 1918.8,1642.4 1923.1,1641.2 1927.4,1640.9 1931.8,1637.8 1936.1,1640.6 1940.5,1640.5 1944.8,1639.6 1949.1,1638.6 1953.5,1639.7 1957.8,1641.3 1962.2,1642.0 1966.5,1642.1 1970.8,1642.1 1975.2,1642.0 1979.5,1642.5 1983.9,1642.5 1988.2,1641.5 1992.5,1641.0 1996.9,1642.7 2001.2,1642.7 2005.6,1641.6 2009.9,1643.1 2014.2,1643.2 2018.6,1642.9 2022.9,1643.6 2027.3,1643.3 2031.6,1643.7 2035.9,1641.8 2040.3,1640.4 2044.6,1640.7 2049.0,1642.4 2053.3,1643.1 2057.6,1643.6 2062.0,1643.6 2066.3,1644.1 2070.7,1644.6 2075.0,1643.8 2079.3,1643.1 2083.7,1644.1 2088.0,1643.2 2092.4,1644.4 2096.7,1642.8 2101.0,1643.7 2105.4,1645.0 2109.7,1646.2 2114.1,1645.8 2118.4,1643.9 2122.7,1644.6 2127.1,1645.5 2131.4,1645.1 2135.8,1644.3 2140.1,1645.3 2144.4,1644.9 2148.8,1644.7 2153.1,1644.5 2157.5,1644.5 2161.8,1644.8 2166.1,1646.3 2170.5,1645.5 2174.8,1647.2 2179.2,1647.8 2183.5,1645.8 2187.8,1646.2 2192.2,1645.8 2196.5,1645.9 2200.9,1646.8 2205.2,1647.8 2209.5,1646.4 2213.9,1647.1 2218.2,1649.3 2222.6,1648.2 2226.9,1646.2 2231.2,1646.9 2235.6,1646.4 2239.9,1646.0 2244.3,1646.6 2248.6,1647.8 2252.9,1645.9 2257.3,1646.1 2261.6,1645.9 2266.0,1645.3 2270.3,1646.6 2274.6,1646.6 2279.0,1647.1 2283.3,1647.5 2287.7,1648.3 2292.0,1649.9 2296.3,1649.8 2300.7,1646.7 2305.0,1646.3 2309.4,1646.9 2313.7,1646.5 2318.0,1644.9 2322.4,1644.8 2326.7,1645.7 2331.1,1646.6 2335.4,1648.2 2339.7,1648.5 2344.1,1646.6 2348.4,1646.3 2352.8,1647.8 2357.1,1648.3 2361.4,1648.9 2365.8,1647.5 2370.1,1646.4 2374.5,1648.5 2378.8,1649.4 2383.1,1647.7 2387.5,1646.9 2391.8,1647.8 2396.2,1648.6 2399.5,1647.2"/>
</g>
<text class="tick" x="228.4" y="1817">200</text>
<text class="tick" x="662.4" y="1817">300</text>
<text class="tick" x="1096.4" y="1817">400</text>
<text class="tick" x="1530.4" y="1817">500</text>
<text class="tick" x="1964.4" y="1817">600</text>
<text class="tick" x="2398.4" y="1817">700</text>
<text class="ttl" style="font-size:117px" x="1313" y="1948">λ (nm)</text>
<text class="ttl" style="font-size:122.5px" transform="translate(116,815.5) rotate(-90)">PA Signal (a.u.)</text>
<line x1="1536" y1="138.5" x2="1726" y2="138.5" stroke="#8000ff" stroke-width="9"/>
<text class="leg" x="1746" y="165.6">0Nb-0N-400</text>
<line x1="1536" y1="241.8" x2="1726" y2="241.8" stroke="#800080" stroke-width="9"/>
<text class="leg" x="1746" y="268.9">0Nb-1N-400</text>
<line x1="1536" y1="345.0" x2="1726" y2="345.0" stroke="#800000" stroke-width="9"/>
<text class="leg" x="1746" y="372.1">0Nb-2N-400</text>
<line x1="1536" y1="448.2" x2="1726" y2="448.2" stroke="#ff00ff" stroke-width="9"/>
<text class="leg" x="1746" y="475.4">12.5Nb-0N-400</text>
<line x1="1536" y1="551.5" x2="1726" y2="551.5" stroke="#008000" stroke-width="9"/>
<text class="leg" x="1746" y="578.6">12.5Nb-1N-400</text>
<line x1="1536" y1="654.8" x2="1726" y2="654.8" stroke="#000080" stroke-width="9"/>
<text class="leg" x="1746" y="681.9">12.5Nb-2N-400</text>
<line x1="1536" y1="758.0" x2="1726" y2="758.0" stroke="#000000" stroke-width="9"/>
<text class="leg" x="1746" y="785.1">25Nb-0N-400</text>
<line x1="1536" y1="861.2" x2="1726" y2="861.2" stroke="#ff0000" stroke-width="9"/>
<text class="leg" x="1746" y="888.4">25Nb-1N-400</text>
<line x1="1536" y1="964.5" x2="1726" y2="964.5" stroke="#0000ff" stroke-width="9"/>
<text class="leg" x="1746" y="991.6">25Nb-2N-400</text>
<line x1="1536" y1="1067.8" x2="1726" y2="1067.8" stroke="#808000" stroke-width="9"/>
<text class="leg" x="1746" y="1094.8">100Nb-0N-400</text>
<line x1="1536" y1="1171.0" x2="1726" y2="1171.0" stroke="#2e64a2" stroke-width="9"/>
<text class="leg" x="1746" y="1198.1">100Nb-2N-400</text>
</svg>
</body></html>
